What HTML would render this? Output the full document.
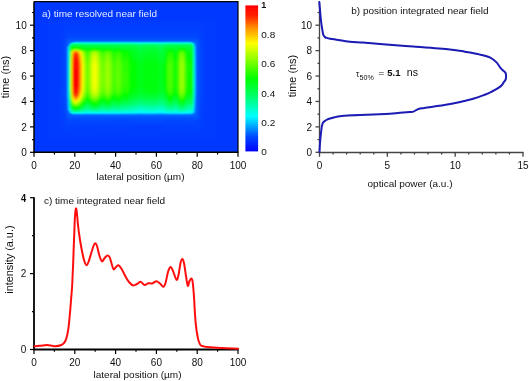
<!DOCTYPE html><html><head><meta charset="utf-8"><title>near field</title><style>html,body{margin:0;padding:0;background:#fff;overflow:hidden}body{width:529px;height:381px;font-family:"Liberation Sans",sans-serif}svg{display:block}</style></head><body><svg width="529" height="381" viewBox="0 0 529 381"><defs><linearGradient id="h0" x1="0" y1="0" x2="0" y2="1"><stop offset="0.000" stop-color="#003aff"/><stop offset="1.000" stop-color="#003aff"/></linearGradient><linearGradient id="h1" x1="0" y1="0" x2="0" y2="1"><stop offset="0.000" stop-color="#003aff"/><stop offset="1.000" stop-color="#003aff"/></linearGradient><linearGradient id="h2" x1="0" y1="0" x2="0" y2="1"><stop offset="0.000" stop-color="#003aff"/><stop offset="1.000" stop-color="#003aff"/></linearGradient><linearGradient id="h3" x1="0" y1="0" x2="0" y2="1"><stop offset="0.000" stop-color="#003aff"/><stop offset="0.644" stop-color="#0042ff"/><stop offset="1.000" stop-color="#003aff"/></linearGradient><linearGradient id="h4" x1="0" y1="0" x2="0" y2="1"><stop offset="0.000" stop-color="#003aff"/><stop offset="0.254" stop-color="#0047ff"/><stop offset="0.644" stop-color="#0047ff"/><stop offset="1.000" stop-color="#003aff"/></linearGradient><linearGradient id="h5" x1="0" y1="0" x2="0" y2="1"><stop offset="0.000" stop-color="#003aff"/><stop offset="0.254" stop-color="#004cff"/><stop offset="0.644" stop-color="#004cff"/><stop offset="0.847" stop-color="#0044ff"/><stop offset="1.000" stop-color="#003aff"/></linearGradient><linearGradient id="h6" x1="0" y1="0" x2="0" y2="1"><stop offset="0.000" stop-color="#003aff"/><stop offset="0.144" stop-color="#0044ff"/><stop offset="0.186" stop-color="#0051ff"/><stop offset="0.771" stop-color="#0051ff"/><stop offset="0.847" stop-color="#0044ff"/><stop offset="1.000" stop-color="#003aff"/></linearGradient><linearGradient id="h7" x1="0" y1="0" x2="0" y2="1"><stop offset="0.000" stop-color="#003aff"/><stop offset="0.144" stop-color="#0045ff"/><stop offset="0.186" stop-color="#0057ff"/><stop offset="0.220" stop-color="#0057ff"/><stop offset="0.237" stop-color="#0064ff"/><stop offset="0.559" stop-color="#006aff"/><stop offset="0.805" stop-color="#0057ff"/><stop offset="0.847" stop-color="#0045ff"/><stop offset="0.958" stop-color="#003bff"/><stop offset="1.000" stop-color="#003aff"/></linearGradient><linearGradient id="h8" x1="0" y1="0" x2="0" y2="1"><stop offset="0.000" stop-color="#003aff"/><stop offset="0.144" stop-color="#0046ff"/><stop offset="0.186" stop-color="#005fff"/><stop offset="0.220" stop-color="#005fff"/><stop offset="0.229" stop-color="#00e7ff"/><stop offset="0.288" stop-color="#00ffff"/><stop offset="0.475" stop-color="#00fff1"/><stop offset="0.610" stop-color="#00fff9"/><stop offset="0.644" stop-color="#00f5ff"/><stop offset="0.763" stop-color="#0096ff"/><stop offset="0.771" stop-color="#005fff"/><stop offset="0.805" stop-color="#005fff"/><stop offset="0.847" stop-color="#0046ff"/><stop offset="1.000" stop-color="#003aff"/></linearGradient><linearGradient id="h9" x1="0" y1="0" x2="0" y2="1"><stop offset="0.000" stop-color="#003aff"/><stop offset="0.144" stop-color="#0046ff"/><stop offset="0.186" stop-color="#0063ff"/><stop offset="0.203" stop-color="#0068ff"/><stop offset="0.212" stop-color="#00b5ff"/><stop offset="0.220" stop-color="#00ffed"/><stop offset="0.229" stop-color="#00ff7c"/><stop offset="0.254" stop-color="#00ff67"/><stop offset="0.322" stop-color="#00ff53"/><stop offset="0.390" stop-color="#00ff48"/><stop offset="0.559" stop-color="#00ff49"/><stop offset="0.610" stop-color="#00ff53"/><stop offset="0.644" stop-color="#00ff67"/><stop offset="0.712" stop-color="#00ffb2"/><stop offset="0.763" stop-color="#00fff6"/><stop offset="0.771" stop-color="#00b0ff"/><stop offset="0.780" stop-color="#007fff"/><stop offset="0.788" stop-color="#0064ff"/><stop offset="0.805" stop-color="#0063ff"/><stop offset="0.847" stop-color="#0046ff"/><stop offset="0.958" stop-color="#003bff"/><stop offset="1.000" stop-color="#003aff"/></linearGradient><linearGradient id="h10" x1="0" y1="0" x2="0" y2="1"><stop offset="0.000" stop-color="#003aff"/><stop offset="0.144" stop-color="#0046ff"/><stop offset="0.186" stop-color="#0063ff"/><stop offset="0.195" stop-color="#006bff"/><stop offset="0.203" stop-color="#00ffe9"/><stop offset="0.212" stop-color="#00ff71"/><stop offset="0.220" stop-color="#00ff47"/><stop offset="0.254" stop-color="#00ff08"/><stop offset="0.288" stop-color="#2eff00"/><stop offset="0.390" stop-color="#55ff00"/><stop offset="0.559" stop-color="#53ff00"/><stop offset="0.610" stop-color="#40ff00"/><stop offset="0.661" stop-color="#04ff00"/><stop offset="0.678" stop-color="#00ff14"/><stop offset="0.746" stop-color="#00ff89"/><stop offset="0.771" stop-color="#00ffc7"/><stop offset="0.780" stop-color="#00ffe5"/><stop offset="0.788" stop-color="#00aaff"/><stop offset="0.797" stop-color="#0064ff"/><stop offset="0.822" stop-color="#0054ff"/><stop offset="0.890" stop-color="#003fff"/><stop offset="1.000" stop-color="#003aff"/></linearGradient><linearGradient id="h11" x1="0" y1="0" x2="0" y2="1"><stop offset="0.000" stop-color="#003aff"/><stop offset="0.144" stop-color="#0046ff"/><stop offset="0.186" stop-color="#0063ff"/><stop offset="0.195" stop-color="#00bbff"/><stop offset="0.203" stop-color="#00ff8a"/><stop offset="0.220" stop-color="#00ff42"/><stop offset="0.237" stop-color="#00ff10"/><stop offset="0.246" stop-color="#14ff00"/><stop offset="0.254" stop-color="#40ff00"/><stop offset="0.271" stop-color="#a0ff00"/><stop offset="0.288" stop-color="#c3ff00"/><stop offset="0.356" stop-color="#f0ff00"/><stop offset="0.390" stop-color="#fcff00"/><stop offset="0.559" stop-color="#f9ff00"/><stop offset="0.610" stop-color="#dfff00"/><stop offset="0.644" stop-color="#b0ff00"/><stop offset="0.678" stop-color="#65ff00"/><stop offset="0.712" stop-color="#05ff00"/><stop offset="0.746" stop-color="#00ff52"/><stop offset="0.780" stop-color="#00ffcb"/><stop offset="0.788" stop-color="#00f9ff"/><stop offset="0.797" stop-color="#007bff"/><stop offset="0.805" stop-color="#0063ff"/><stop offset="0.822" stop-color="#0054ff"/><stop offset="0.890" stop-color="#003fff"/><stop offset="1.000" stop-color="#003aff"/></linearGradient><linearGradient id="h12" x1="0" y1="0" x2="0" y2="1"><stop offset="0.000" stop-color="#003aff"/><stop offset="0.144" stop-color="#0046ff"/><stop offset="0.186" stop-color="#0065ff"/><stop offset="0.195" stop-color="#00fffb"/><stop offset="0.203" stop-color="#00ff88"/><stop offset="0.220" stop-color="#00ff3d"/><stop offset="0.237" stop-color="#04ff00"/><stop offset="0.254" stop-color="#81ff00"/><stop offset="0.271" stop-color="#ffef00"/><stop offset="0.288" stop-color="#ffbc00"/><stop offset="0.322" stop-color="#ff9400"/><stop offset="0.390" stop-color="#ff6800"/><stop offset="0.475" stop-color="#ff6100"/><stop offset="0.559" stop-color="#ff6c00"/><stop offset="0.610" stop-color="#ff9500"/><stop offset="0.644" stop-color="#ffcf00"/><stop offset="0.661" stop-color="#fffa00"/><stop offset="0.678" stop-color="#d0ff00"/><stop offset="0.712" stop-color="#59ff00"/><stop offset="0.729" stop-color="#13ff00"/><stop offset="0.746" stop-color="#00ff29"/><stop offset="0.771" stop-color="#00ff92"/><stop offset="0.780" stop-color="#00ffbb"/><stop offset="0.788" stop-color="#00fffc"/><stop offset="0.797" stop-color="#009fff"/><stop offset="0.805" stop-color="#0063ff"/><stop offset="0.847" stop-color="#0046ff"/><stop offset="1.000" stop-color="#003aff"/></linearGradient><linearGradient id="h13" x1="0" y1="0" x2="0" y2="1"><stop offset="0.000" stop-color="#003aff"/><stop offset="0.144" stop-color="#0046ff"/><stop offset="0.169" stop-color="#0054ff"/><stop offset="0.186" stop-color="#006aff"/><stop offset="0.195" stop-color="#00ffe7"/><stop offset="0.203" stop-color="#00ff88"/><stop offset="0.229" stop-color="#00ff19"/><stop offset="0.237" stop-color="#12ff00"/><stop offset="0.254" stop-color="#a3ff00"/><stop offset="0.271" stop-color="#ffb300"/><stop offset="0.288" stop-color="#ff6f00"/><stop offset="0.322" stop-color="#ff3400"/><stop offset="0.356" stop-color="#ff1b00"/><stop offset="0.559" stop-color="#ff1600"/><stop offset="0.610" stop-color="#ff3500"/><stop offset="0.644" stop-color="#ff8a00"/><stop offset="0.678" stop-color="#fff500"/><stop offset="0.712" stop-color="#87ff00"/><stop offset="0.729" stop-color="#38ff00"/><stop offset="0.746" stop-color="#00ff12"/><stop offset="0.771" stop-color="#00ff85"/><stop offset="0.780" stop-color="#00ffb2"/><stop offset="0.788" stop-color="#00fff8"/><stop offset="0.805" stop-color="#0064ff"/><stop offset="0.822" stop-color="#0054ff"/><stop offset="0.890" stop-color="#003fff"/><stop offset="1.000" stop-color="#003aff"/></linearGradient><linearGradient id="h14" x1="0" y1="0" x2="0" y2="1"><stop offset="0.000" stop-color="#003aff"/><stop offset="0.144" stop-color="#0046ff"/><stop offset="0.178" stop-color="#005eff"/><stop offset="0.186" stop-color="#00a8ff"/><stop offset="0.195" stop-color="#00ffdf"/><stop offset="0.203" stop-color="#00ff88"/><stop offset="0.220" stop-color="#00ff39"/><stop offset="0.229" stop-color="#00ff17"/><stop offset="0.237" stop-color="#18ff00"/><stop offset="0.254" stop-color="#b4ff00"/><stop offset="0.271" stop-color="#ff9500"/><stop offset="0.288" stop-color="#ff4200"/><stop offset="0.305" stop-color="#ff1d00"/><stop offset="0.356" stop-color="#ff0c00"/><stop offset="0.475" stop-color="#ff0200"/><stop offset="0.559" stop-color="#ff0600"/><stop offset="0.610" stop-color="#ff1600"/><stop offset="0.627" stop-color="#ff2c00"/><stop offset="0.644" stop-color="#ff5d00"/><stop offset="0.678" stop-color="#ffd800"/><stop offset="0.695" stop-color="#e3ff00"/><stop offset="0.746" stop-color="#00ff07"/><stop offset="0.771" stop-color="#00ff7e"/><stop offset="0.780" stop-color="#00ffae"/><stop offset="0.788" stop-color="#00fff6"/><stop offset="0.805" stop-color="#006dff"/><stop offset="0.822" stop-color="#0054ff"/><stop offset="0.847" stop-color="#0046ff"/><stop offset="0.958" stop-color="#003bff"/><stop offset="1.000" stop-color="#003aff"/></linearGradient><linearGradient id="h15" x1="0" y1="0" x2="0" y2="1"><stop offset="0.000" stop-color="#003aff"/><stop offset="0.144" stop-color="#0046ff"/><stop offset="0.178" stop-color="#005eff"/><stop offset="0.186" stop-color="#00a8ff"/><stop offset="0.195" stop-color="#00ffdf"/><stop offset="0.203" stop-color="#00ff88"/><stop offset="0.220" stop-color="#00ff38"/><stop offset="0.229" stop-color="#00ff15"/><stop offset="0.237" stop-color="#1bff00"/><stop offset="0.254" stop-color="#bcff00"/><stop offset="0.271" stop-color="#ff8500"/><stop offset="0.288" stop-color="#ff2c00"/><stop offset="0.322" stop-color="#ff0e00"/><stop offset="0.390" stop-color="#ff0000"/><stop offset="0.559" stop-color="#ff0000"/><stop offset="0.627" stop-color="#ff1b00"/><stop offset="0.644" stop-color="#ff4700"/><stop offset="0.678" stop-color="#ffca00"/><stop offset="0.695" stop-color="#efff00"/><stop offset="0.712" stop-color="#a7ff00"/><stop offset="0.746" stop-color="#00ff01"/><stop offset="0.771" stop-color="#00ff7b"/><stop offset="0.780" stop-color="#00ffac"/><stop offset="0.788" stop-color="#00fff5"/><stop offset="0.805" stop-color="#006dff"/><stop offset="0.822" stop-color="#0054ff"/><stop offset="0.890" stop-color="#003fff"/><stop offset="1.000" stop-color="#003aff"/></linearGradient><linearGradient id="h16" x1="0" y1="0" x2="0" y2="1"><stop offset="0.000" stop-color="#003aff"/><stop offset="0.144" stop-color="#0046ff"/><stop offset="0.178" stop-color="#005eff"/><stop offset="0.186" stop-color="#00a8ff"/><stop offset="0.195" stop-color="#00ffdf"/><stop offset="0.203" stop-color="#00ff88"/><stop offset="0.220" stop-color="#00ff39"/><stop offset="0.229" stop-color="#00ff16"/><stop offset="0.237" stop-color="#1aff00"/><stop offset="0.254" stop-color="#b9ff00"/><stop offset="0.271" stop-color="#ff8b00"/><stop offset="0.288" stop-color="#ff3400"/><stop offset="0.305" stop-color="#ff1900"/><stop offset="0.356" stop-color="#ff0700"/><stop offset="0.475" stop-color="#ff0000"/><stop offset="0.559" stop-color="#ff0100"/><stop offset="0.610" stop-color="#ff1100"/><stop offset="0.627" stop-color="#ff1e00"/><stop offset="0.644" stop-color="#ff4f00"/><stop offset="0.678" stop-color="#ffcf00"/><stop offset="0.695" stop-color="#ebff00"/><stop offset="0.746" stop-color="#00ff03"/><stop offset="0.771" stop-color="#00ff7c"/><stop offset="0.780" stop-color="#00ffad"/><stop offset="0.788" stop-color="#00fff5"/><stop offset="0.805" stop-color="#006dff"/><stop offset="0.822" stop-color="#0054ff"/><stop offset="0.847" stop-color="#0046ff"/><stop offset="0.958" stop-color="#003bff"/><stop offset="1.000" stop-color="#003aff"/></linearGradient><linearGradient id="h17" x1="0" y1="0" x2="0" y2="1"><stop offset="0.000" stop-color="#003aff"/><stop offset="0.144" stop-color="#0046ff"/><stop offset="0.178" stop-color="#005eff"/><stop offset="0.186" stop-color="#00a8ff"/><stop offset="0.195" stop-color="#00ffdf"/><stop offset="0.203" stop-color="#00ff88"/><stop offset="0.220" stop-color="#00ff39"/><stop offset="0.229" stop-color="#00ff17"/><stop offset="0.237" stop-color="#17ff00"/><stop offset="0.254" stop-color="#b1ff00"/><stop offset="0.271" stop-color="#ff9a00"/><stop offset="0.288" stop-color="#ff4900"/><stop offset="0.305" stop-color="#ff2300"/><stop offset="0.356" stop-color="#ff0e00"/><stop offset="0.475" stop-color="#ff0400"/><stop offset="0.559" stop-color="#ff0800"/><stop offset="0.610" stop-color="#ff1800"/><stop offset="0.627" stop-color="#ff3300"/><stop offset="0.644" stop-color="#ff6300"/><stop offset="0.678" stop-color="#ffdd00"/><stop offset="0.695" stop-color="#dfff00"/><stop offset="0.746" stop-color="#00ff09"/><stop offset="0.771" stop-color="#00ff7f"/><stop offset="0.780" stop-color="#00ffaf"/><stop offset="0.788" stop-color="#00fff6"/><stop offset="0.805" stop-color="#006dff"/><stop offset="0.822" stop-color="#0054ff"/><stop offset="0.847" stop-color="#0046ff"/><stop offset="0.958" stop-color="#003bff"/><stop offset="1.000" stop-color="#003aff"/></linearGradient><linearGradient id="h18" x1="0" y1="0" x2="0" y2="1"><stop offset="0.000" stop-color="#003aff"/><stop offset="0.144" stop-color="#0046ff"/><stop offset="0.178" stop-color="#005eff"/><stop offset="0.186" stop-color="#00a8ff"/><stop offset="0.195" stop-color="#00ffdf"/><stop offset="0.203" stop-color="#00ff88"/><stop offset="0.220" stop-color="#00ff3b"/><stop offset="0.229" stop-color="#00ff1a"/><stop offset="0.237" stop-color="#0fff00"/><stop offset="0.254" stop-color="#9dff00"/><stop offset="0.271" stop-color="#ffbe00"/><stop offset="0.288" stop-color="#ff8000"/><stop offset="0.322" stop-color="#ff4600"/><stop offset="0.356" stop-color="#ff2800"/><stop offset="0.390" stop-color="#ff1a00"/><stop offset="0.559" stop-color="#ff1c00"/><stop offset="0.610" stop-color="#ff4700"/><stop offset="0.644" stop-color="#ff9700"/><stop offset="0.678" stop-color="#ffff00"/><stop offset="0.712" stop-color="#7fff00"/><stop offset="0.729" stop-color="#31ff00"/><stop offset="0.746" stop-color="#00ff16"/><stop offset="0.771" stop-color="#00ff87"/><stop offset="0.780" stop-color="#00ffb4"/><stop offset="0.788" stop-color="#00fff9"/><stop offset="0.805" stop-color="#006dff"/><stop offset="0.822" stop-color="#0054ff"/><stop offset="0.847" stop-color="#0046ff"/><stop offset="0.958" stop-color="#003bff"/><stop offset="1.000" stop-color="#003aff"/></linearGradient><linearGradient id="h19" x1="0" y1="0" x2="0" y2="1"><stop offset="0.000" stop-color="#003aff"/><stop offset="0.144" stop-color="#0046ff"/><stop offset="0.178" stop-color="#005eff"/><stop offset="0.186" stop-color="#00a8ff"/><stop offset="0.195" stop-color="#00ffdf"/><stop offset="0.203" stop-color="#00ff88"/><stop offset="0.220" stop-color="#00ff3c"/><stop offset="0.237" stop-color="#07ff00"/><stop offset="0.254" stop-color="#87ff00"/><stop offset="0.271" stop-color="#ffe400"/><stop offset="0.288" stop-color="#ffaf00"/><stop offset="0.322" stop-color="#ff8500"/><stop offset="0.356" stop-color="#ff6900"/><stop offset="0.390" stop-color="#ff5500"/><stop offset="0.475" stop-color="#ff4e00"/><stop offset="0.559" stop-color="#ff5900"/><stop offset="0.610" stop-color="#ff8600"/><stop offset="0.644" stop-color="#ffc300"/><stop offset="0.661" stop-color="#ffee00"/><stop offset="0.678" stop-color="#daff00"/><stop offset="0.712" stop-color="#62ff00"/><stop offset="0.729" stop-color="#1aff00"/><stop offset="0.746" stop-color="#00ff25"/><stop offset="0.763" stop-color="#00ff65"/><stop offset="0.771" stop-color="#00ff90"/><stop offset="0.780" stop-color="#00ffba"/><stop offset="0.788" stop-color="#00fffb"/><stop offset="0.805" stop-color="#006dff"/><stop offset="0.822" stop-color="#0054ff"/><stop offset="0.890" stop-color="#003fff"/><stop offset="1.000" stop-color="#003aff"/></linearGradient><linearGradient id="h20" x1="0" y1="0" x2="0" y2="1"><stop offset="0.000" stop-color="#003aff"/><stop offset="0.144" stop-color="#0046ff"/><stop offset="0.178" stop-color="#005eff"/><stop offset="0.186" stop-color="#00a8ff"/><stop offset="0.195" stop-color="#00ffdf"/><stop offset="0.203" stop-color="#00ff88"/><stop offset="0.220" stop-color="#00ff3e"/><stop offset="0.237" stop-color="#00ff02"/><stop offset="0.254" stop-color="#70ff00"/><stop offset="0.271" stop-color="#f2ff00"/><stop offset="0.288" stop-color="#ffdc00"/><stop offset="0.322" stop-color="#ffb700"/><stop offset="0.356" stop-color="#ffa400"/><stop offset="0.390" stop-color="#ff9600"/><stop offset="0.475" stop-color="#ff9100"/><stop offset="0.559" stop-color="#ff9900"/><stop offset="0.610" stop-color="#ffb800"/><stop offset="0.644" stop-color="#fff000"/><stop offset="0.661" stop-color="#e6ff00"/><stop offset="0.712" stop-color="#44ff00"/><stop offset="0.729" stop-color="#02ff00"/><stop offset="0.746" stop-color="#00ff34"/><stop offset="0.771" stop-color="#00ff98"/><stop offset="0.780" stop-color="#00ffbf"/><stop offset="0.788" stop-color="#00fffe"/><stop offset="0.805" stop-color="#006dff"/><stop offset="0.822" stop-color="#0054ff"/><stop offset="0.847" stop-color="#0046ff"/><stop offset="0.958" stop-color="#003bff"/><stop offset="1.000" stop-color="#003aff"/></linearGradient><linearGradient id="h21" x1="0" y1="0" x2="0" y2="1"><stop offset="0.000" stop-color="#003aff"/><stop offset="0.144" stop-color="#0046ff"/><stop offset="0.178" stop-color="#005eff"/><stop offset="0.186" stop-color="#00a8ff"/><stop offset="0.195" stop-color="#00ffdf"/><stop offset="0.203" stop-color="#00ff88"/><stop offset="0.220" stop-color="#00ff40"/><stop offset="0.237" stop-color="#00ff09"/><stop offset="0.246" stop-color="#25ff00"/><stop offset="0.271" stop-color="#cbff00"/><stop offset="0.288" stop-color="#f4ff00"/><stop offset="0.322" stop-color="#ffe800"/><stop offset="0.390" stop-color="#ffc900"/><stop offset="0.559" stop-color="#ffcc00"/><stop offset="0.610" stop-color="#ffe900"/><stop offset="0.627" stop-color="#fdff00"/><stop offset="0.644" stop-color="#e1ff00"/><stop offset="0.678" stop-color="#8fff00"/><stop offset="0.712" stop-color="#26ff00"/><stop offset="0.729" stop-color="#00ff12"/><stop offset="0.746" stop-color="#00ff42"/><stop offset="0.780" stop-color="#00ffc5"/><stop offset="0.788" stop-color="#00feff"/><stop offset="0.805" stop-color="#006dff"/><stop offset="0.822" stop-color="#0054ff"/><stop offset="0.890" stop-color="#003fff"/><stop offset="1.000" stop-color="#003aff"/></linearGradient><linearGradient id="h22" x1="0" y1="0" x2="0" y2="1"><stop offset="0.000" stop-color="#003aff"/><stop offset="0.144" stop-color="#0046ff"/><stop offset="0.178" stop-color="#005eff"/><stop offset="0.186" stop-color="#00a8ff"/><stop offset="0.195" stop-color="#00ffdf"/><stop offset="0.203" stop-color="#00ff88"/><stop offset="0.220" stop-color="#00ff41"/><stop offset="0.237" stop-color="#00ff0f"/><stop offset="0.246" stop-color="#17ff00"/><stop offset="0.271" stop-color="#a8ff00"/><stop offset="0.288" stop-color="#ccff00"/><stop offset="0.322" stop-color="#eaff00"/><stop offset="0.390" stop-color="#fff800"/><stop offset="0.559" stop-color="#fffb00"/><stop offset="0.610" stop-color="#e9ff00"/><stop offset="0.644" stop-color="#b9ff00"/><stop offset="0.678" stop-color="#6dff00"/><stop offset="0.712" stop-color="#0bff00"/><stop offset="0.746" stop-color="#00ff50"/><stop offset="0.780" stop-color="#00ffca"/><stop offset="0.788" stop-color="#00fbff"/><stop offset="0.805" stop-color="#006dff"/><stop offset="0.822" stop-color="#0054ff"/><stop offset="0.890" stop-color="#003fff"/><stop offset="1.000" stop-color="#003aff"/></linearGradient><linearGradient id="h23" x1="0" y1="0" x2="0" y2="1"><stop offset="0.000" stop-color="#003aff"/><stop offset="0.144" stop-color="#0046ff"/><stop offset="0.178" stop-color="#005eff"/><stop offset="0.186" stop-color="#00a8ff"/><stop offset="0.195" stop-color="#00ffdf"/><stop offset="0.203" stop-color="#00ff88"/><stop offset="0.220" stop-color="#00ff43"/><stop offset="0.237" stop-color="#00ff15"/><stop offset="0.246" stop-color="#0bff00"/><stop offset="0.271" stop-color="#89ff00"/><stop offset="0.288" stop-color="#a8ff00"/><stop offset="0.322" stop-color="#c3ff00"/><stop offset="0.390" stop-color="#ddff00"/><stop offset="0.559" stop-color="#daff00"/><stop offset="0.610" stop-color="#c2ff00"/><stop offset="0.644" stop-color="#95ff00"/><stop offset="0.678" stop-color="#4dff00"/><stop offset="0.712" stop-color="#00ff0a"/><stop offset="0.746" stop-color="#00ff5b"/><stop offset="0.780" stop-color="#00ffcf"/><stop offset="0.788" stop-color="#00f8ff"/><stop offset="0.805" stop-color="#006dff"/><stop offset="0.822" stop-color="#0054ff"/><stop offset="0.890" stop-color="#003fff"/><stop offset="1.000" stop-color="#003aff"/></linearGradient><linearGradient id="h24" x1="0" y1="0" x2="0" y2="1"><stop offset="0.000" stop-color="#003aff"/><stop offset="0.144" stop-color="#0046ff"/><stop offset="0.178" stop-color="#005eff"/><stop offset="0.186" stop-color="#00a8ff"/><stop offset="0.195" stop-color="#00ffdf"/><stop offset="0.203" stop-color="#00ff88"/><stop offset="0.220" stop-color="#00ff44"/><stop offset="0.246" stop-color="#00ff01"/><stop offset="0.271" stop-color="#68ff00"/><stop offset="0.288" stop-color="#83ff00"/><stop offset="0.322" stop-color="#9cff00"/><stop offset="0.390" stop-color="#b4ff00"/><stop offset="0.559" stop-color="#b1ff00"/><stop offset="0.610" stop-color="#9bff00"/><stop offset="0.644" stop-color="#70ff00"/><stop offset="0.695" stop-color="#06ff00"/><stop offset="0.746" stop-color="#00ff68"/><stop offset="0.780" stop-color="#00ffd3"/><stop offset="0.788" stop-color="#00f6ff"/><stop offset="0.805" stop-color="#006dff"/><stop offset="0.822" stop-color="#0054ff"/><stop offset="0.847" stop-color="#0046ff"/><stop offset="0.958" stop-color="#003bff"/><stop offset="1.000" stop-color="#003aff"/></linearGradient><linearGradient id="h25" x1="0" y1="0" x2="0" y2="1"><stop offset="0.000" stop-color="#003aff"/><stop offset="0.144" stop-color="#0046ff"/><stop offset="0.178" stop-color="#005eff"/><stop offset="0.186" stop-color="#00a8ff"/><stop offset="0.195" stop-color="#00ffdf"/><stop offset="0.203" stop-color="#00ff88"/><stop offset="0.220" stop-color="#00ff45"/><stop offset="0.246" stop-color="#00ff09"/><stop offset="0.254" stop-color="#12ff00"/><stop offset="0.271" stop-color="#50ff00"/><stop offset="0.288" stop-color="#67ff00"/><stop offset="0.322" stop-color="#7eff00"/><stop offset="0.390" stop-color="#95ff00"/><stop offset="0.559" stop-color="#93ff00"/><stop offset="0.610" stop-color="#7eff00"/><stop offset="0.644" stop-color="#54ff00"/><stop offset="0.678" stop-color="#17ff00"/><stop offset="0.695" stop-color="#00ff0b"/><stop offset="0.746" stop-color="#00ff73"/><stop offset="0.771" stop-color="#00ffbd"/><stop offset="0.788" stop-color="#00f4ff"/><stop offset="0.805" stop-color="#006dff"/><stop offset="0.822" stop-color="#0054ff"/><stop offset="0.890" stop-color="#003fff"/><stop offset="1.000" stop-color="#003aff"/></linearGradient><linearGradient id="h26" x1="0" y1="0" x2="0" y2="1"><stop offset="0.000" stop-color="#003aff"/><stop offset="0.144" stop-color="#0046ff"/><stop offset="0.178" stop-color="#005eff"/><stop offset="0.186" stop-color="#00a8ff"/><stop offset="0.195" stop-color="#00ffdf"/><stop offset="0.203" stop-color="#00ff88"/><stop offset="0.220" stop-color="#00ff46"/><stop offset="0.254" stop-color="#05ff00"/><stop offset="0.271" stop-color="#37ff00"/><stop offset="0.288" stop-color="#4bff00"/><stop offset="0.356" stop-color="#6dff00"/><stop offset="0.475" stop-color="#77ff00"/><stop offset="0.559" stop-color="#73ff00"/><stop offset="0.610" stop-color="#5fff00"/><stop offset="0.644" stop-color="#38ff00"/><stop offset="0.678" stop-color="#00ff00"/><stop offset="0.746" stop-color="#00ff7d"/><stop offset="0.771" stop-color="#00ffc2"/><stop offset="0.788" stop-color="#00f2ff"/><stop offset="0.805" stop-color="#006dff"/><stop offset="0.822" stop-color="#0054ff"/><stop offset="0.890" stop-color="#003fff"/><stop offset="1.000" stop-color="#003aff"/></linearGradient><linearGradient id="h27" x1="0" y1="0" x2="0" y2="1"><stop offset="0.000" stop-color="#003aff"/><stop offset="0.144" stop-color="#0046ff"/><stop offset="0.178" stop-color="#005eff"/><stop offset="0.186" stop-color="#00a8ff"/><stop offset="0.195" stop-color="#00ffdf"/><stop offset="0.203" stop-color="#00ff88"/><stop offset="0.220" stop-color="#00ff46"/><stop offset="0.254" stop-color="#02ff00"/><stop offset="0.271" stop-color="#33ff00"/><stop offset="0.288" stop-color="#46ff00"/><stop offset="0.356" stop-color="#67ff00"/><stop offset="0.475" stop-color="#71ff00"/><stop offset="0.559" stop-color="#6dff00"/><stop offset="0.610" stop-color="#5aff00"/><stop offset="0.678" stop-color="#00ff04"/><stop offset="0.746" stop-color="#00ff7f"/><stop offset="0.771" stop-color="#00ffc3"/><stop offset="0.788" stop-color="#00f2ff"/><stop offset="0.805" stop-color="#006dff"/><stop offset="0.822" stop-color="#0054ff"/><stop offset="0.890" stop-color="#003fff"/><stop offset="1.000" stop-color="#003aff"/></linearGradient><linearGradient id="h28" x1="0" y1="0" x2="0" y2="1"><stop offset="0.000" stop-color="#003aff"/><stop offset="0.144" stop-color="#0046ff"/><stop offset="0.178" stop-color="#005eff"/><stop offset="0.186" stop-color="#00a8ff"/><stop offset="0.195" stop-color="#00ffdf"/><stop offset="0.203" stop-color="#00ff88"/><stop offset="0.220" stop-color="#00ff46"/><stop offset="0.254" stop-color="#03ff00"/><stop offset="0.271" stop-color="#34ff00"/><stop offset="0.288" stop-color="#47ff00"/><stop offset="0.356" stop-color="#68ff00"/><stop offset="0.475" stop-color="#73ff00"/><stop offset="0.559" stop-color="#6fff00"/><stop offset="0.610" stop-color="#5bff00"/><stop offset="0.644" stop-color="#35ff00"/><stop offset="0.678" stop-color="#00ff03"/><stop offset="0.746" stop-color="#00ff7f"/><stop offset="0.771" stop-color="#00ffc3"/><stop offset="0.788" stop-color="#00f2ff"/><stop offset="0.805" stop-color="#006dff"/><stop offset="0.822" stop-color="#0054ff"/><stop offset="0.890" stop-color="#003fff"/><stop offset="1.000" stop-color="#003aff"/></linearGradient><linearGradient id="h29" x1="0" y1="0" x2="0" y2="1"><stop offset="0.000" stop-color="#003aff"/><stop offset="0.144" stop-color="#0046ff"/><stop offset="0.178" stop-color="#005eff"/><stop offset="0.186" stop-color="#00a8ff"/><stop offset="0.195" stop-color="#00ffdf"/><stop offset="0.203" stop-color="#00ff88"/><stop offset="0.220" stop-color="#00ff45"/><stop offset="0.246" stop-color="#00ff0a"/><stop offset="0.254" stop-color="#10ff00"/><stop offset="0.271" stop-color="#4cff00"/><stop offset="0.288" stop-color="#63ff00"/><stop offset="0.322" stop-color="#7aff00"/><stop offset="0.390" stop-color="#91ff00"/><stop offset="0.559" stop-color="#8eff00"/><stop offset="0.610" stop-color="#79ff00"/><stop offset="0.644" stop-color="#50ff00"/><stop offset="0.678" stop-color="#13ff00"/><stop offset="0.695" stop-color="#00ff0e"/><stop offset="0.746" stop-color="#00ff74"/><stop offset="0.771" stop-color="#00ffbd"/><stop offset="0.788" stop-color="#00f4ff"/><stop offset="0.805" stop-color="#006dff"/><stop offset="0.822" stop-color="#0054ff"/><stop offset="0.890" stop-color="#003fff"/><stop offset="1.000" stop-color="#003aff"/></linearGradient><linearGradient id="h30" x1="0" y1="0" x2="0" y2="1"><stop offset="0.000" stop-color="#003aff"/><stop offset="0.144" stop-color="#0046ff"/><stop offset="0.178" stop-color="#005eff"/><stop offset="0.186" stop-color="#00a8ff"/><stop offset="0.195" stop-color="#00ffdf"/><stop offset="0.203" stop-color="#00ff88"/><stop offset="0.220" stop-color="#00ff44"/><stop offset="0.246" stop-color="#00ff03"/><stop offset="0.271" stop-color="#64ff00"/><stop offset="0.288" stop-color="#7fff00"/><stop offset="0.322" stop-color="#97ff00"/><stop offset="0.390" stop-color="#afff00"/><stop offset="0.559" stop-color="#acff00"/><stop offset="0.610" stop-color="#96ff00"/><stop offset="0.644" stop-color="#6cff00"/><stop offset="0.695" stop-color="#03ff00"/><stop offset="0.746" stop-color="#00ff6a"/><stop offset="0.780" stop-color="#00ffd4"/><stop offset="0.788" stop-color="#00f5ff"/><stop offset="0.805" stop-color="#006dff"/><stop offset="0.822" stop-color="#0054ff"/><stop offset="0.847" stop-color="#0046ff"/><stop offset="0.958" stop-color="#003bff"/><stop offset="1.000" stop-color="#003aff"/></linearGradient><linearGradient id="h31" x1="0" y1="0" x2="0" y2="1"><stop offset="0.000" stop-color="#003aff"/><stop offset="0.144" stop-color="#0046ff"/><stop offset="0.178" stop-color="#005eff"/><stop offset="0.186" stop-color="#00a8ff"/><stop offset="0.195" stop-color="#00ffdf"/><stop offset="0.203" stop-color="#00ff88"/><stop offset="0.220" stop-color="#00ff44"/><stop offset="0.246" stop-color="#04ff00"/><stop offset="0.271" stop-color="#78ff00"/><stop offset="0.288" stop-color="#95ff00"/><stop offset="0.322" stop-color="#aeff00"/><stop offset="0.390" stop-color="#c8ff00"/><stop offset="0.559" stop-color="#c5ff00"/><stop offset="0.610" stop-color="#aeff00"/><stop offset="0.644" stop-color="#82ff00"/><stop offset="0.695" stop-color="#14ff00"/><stop offset="0.712" stop-color="#00ff14"/><stop offset="0.746" stop-color="#00ff61"/><stop offset="0.780" stop-color="#00ffd1"/><stop offset="0.788" stop-color="#00f7ff"/><stop offset="0.805" stop-color="#006dff"/><stop offset="0.822" stop-color="#0054ff"/><stop offset="0.847" stop-color="#0046ff"/><stop offset="1.000" stop-color="#003aff"/></linearGradient><linearGradient id="h32" x1="0" y1="0" x2="0" y2="1"><stop offset="0.000" stop-color="#003aff"/><stop offset="0.144" stop-color="#0046ff"/><stop offset="0.178" stop-color="#005eff"/><stop offset="0.186" stop-color="#00a8ff"/><stop offset="0.195" stop-color="#00ffdf"/><stop offset="0.203" stop-color="#00ff88"/><stop offset="0.220" stop-color="#00ff43"/><stop offset="0.246" stop-color="#0aff00"/><stop offset="0.271" stop-color="#87ff00"/><stop offset="0.288" stop-color="#a5ff00"/><stop offset="0.322" stop-color="#c0ff00"/><stop offset="0.390" stop-color="#dbff00"/><stop offset="0.559" stop-color="#d8ff00"/><stop offset="0.610" stop-color="#c0ff00"/><stop offset="0.644" stop-color="#93ff00"/><stop offset="0.678" stop-color="#4cff00"/><stop offset="0.712" stop-color="#00ff0b"/><stop offset="0.746" stop-color="#00ff5c"/><stop offset="0.771" stop-color="#00ffb1"/><stop offset="0.780" stop-color="#00ffcf"/><stop offset="0.788" stop-color="#00f8ff"/><stop offset="0.805" stop-color="#006dff"/><stop offset="0.822" stop-color="#0054ff"/><stop offset="0.890" stop-color="#003fff"/><stop offset="1.000" stop-color="#003aff"/></linearGradient><linearGradient id="h33" x1="0" y1="0" x2="0" y2="1"><stop offset="0.000" stop-color="#003aff"/><stop offset="0.144" stop-color="#0046ff"/><stop offset="0.178" stop-color="#005eff"/><stop offset="0.186" stop-color="#00a8ff"/><stop offset="0.195" stop-color="#00ffdf"/><stop offset="0.203" stop-color="#00ff88"/><stop offset="0.220" stop-color="#00ff42"/><stop offset="0.237" stop-color="#00ff12"/><stop offset="0.246" stop-color="#10ff00"/><stop offset="0.271" stop-color="#95ff00"/><stop offset="0.288" stop-color="#b6ff00"/><stop offset="0.322" stop-color="#d2ff00"/><stop offset="0.390" stop-color="#eeff00"/><stop offset="0.559" stop-color="#ebff00"/><stop offset="0.610" stop-color="#d2ff00"/><stop offset="0.644" stop-color="#a3ff00"/><stop offset="0.678" stop-color="#5aff00"/><stop offset="0.712" stop-color="#00ff02"/><stop offset="0.746" stop-color="#00ff57"/><stop offset="0.780" stop-color="#00ffcd"/><stop offset="0.788" stop-color="#00f9ff"/><stop offset="0.805" stop-color="#006dff"/><stop offset="0.822" stop-color="#0054ff"/><stop offset="0.890" stop-color="#003fff"/><stop offset="1.000" stop-color="#003aff"/></linearGradient><linearGradient id="h34" x1="0" y1="0" x2="0" y2="1"><stop offset="0.000" stop-color="#003aff"/><stop offset="0.144" stop-color="#0046ff"/><stop offset="0.178" stop-color="#005eff"/><stop offset="0.186" stop-color="#00a8ff"/><stop offset="0.195" stop-color="#00ffdf"/><stop offset="0.203" stop-color="#00ff88"/><stop offset="0.220" stop-color="#00ff42"/><stop offset="0.237" stop-color="#00ff10"/><stop offset="0.246" stop-color="#15ff00"/><stop offset="0.271" stop-color="#a4ff00"/><stop offset="0.288" stop-color="#c7ff00"/><stop offset="0.322" stop-color="#e4ff00"/><stop offset="0.390" stop-color="#fffd00"/><stop offset="0.559" stop-color="#feff00"/><stop offset="0.610" stop-color="#e4ff00"/><stop offset="0.644" stop-color="#b4ff00"/><stop offset="0.678" stop-color="#68ff00"/><stop offset="0.712" stop-color="#08ff00"/><stop offset="0.746" stop-color="#00ff51"/><stop offset="0.780" stop-color="#00ffcb"/><stop offset="0.788" stop-color="#00faff"/><stop offset="0.805" stop-color="#006dff"/><stop offset="0.822" stop-color="#0054ff"/><stop offset="0.890" stop-color="#003fff"/><stop offset="1.000" stop-color="#003aff"/></linearGradient><linearGradient id="h35" x1="0" y1="0" x2="0" y2="1"><stop offset="0.000" stop-color="#003aff"/><stop offset="0.144" stop-color="#0046ff"/><stop offset="0.178" stop-color="#005eff"/><stop offset="0.186" stop-color="#00a8ff"/><stop offset="0.195" stop-color="#00ffdf"/><stop offset="0.203" stop-color="#00ff88"/><stop offset="0.220" stop-color="#00ff42"/><stop offset="0.237" stop-color="#00ff11"/><stop offset="0.246" stop-color="#13ff00"/><stop offset="0.271" stop-color="#9eff00"/><stop offset="0.288" stop-color="#c0ff00"/><stop offset="0.322" stop-color="#ddff00"/><stop offset="0.390" stop-color="#f9ff00"/><stop offset="0.559" stop-color="#f6ff00"/><stop offset="0.610" stop-color="#dcff00"/><stop offset="0.644" stop-color="#adff00"/><stop offset="0.678" stop-color="#62ff00"/><stop offset="0.712" stop-color="#03ff00"/><stop offset="0.746" stop-color="#00ff53"/><stop offset="0.780" stop-color="#00ffcc"/><stop offset="0.788" stop-color="#00faff"/><stop offset="0.805" stop-color="#006dff"/><stop offset="0.822" stop-color="#0054ff"/><stop offset="0.890" stop-color="#003fff"/><stop offset="1.000" stop-color="#003aff"/></linearGradient><linearGradient id="h36" x1="0" y1="0" x2="0" y2="1"><stop offset="0.000" stop-color="#003aff"/><stop offset="0.144" stop-color="#0046ff"/><stop offset="0.178" stop-color="#005eff"/><stop offset="0.186" stop-color="#00a8ff"/><stop offset="0.195" stop-color="#00ffdf"/><stop offset="0.203" stop-color="#00ff88"/><stop offset="0.220" stop-color="#00ff43"/><stop offset="0.237" stop-color="#00ff14"/><stop offset="0.246" stop-color="#0dff00"/><stop offset="0.271" stop-color="#8fff00"/><stop offset="0.288" stop-color="#afff00"/><stop offset="0.322" stop-color="#caff00"/><stop offset="0.390" stop-color="#e5ff00"/><stop offset="0.559" stop-color="#e2ff00"/><stop offset="0.610" stop-color="#caff00"/><stop offset="0.644" stop-color="#9cff00"/><stop offset="0.678" stop-color="#54ff00"/><stop offset="0.712" stop-color="#00ff06"/><stop offset="0.746" stop-color="#00ff59"/><stop offset="0.780" stop-color="#00ffce"/><stop offset="0.788" stop-color="#00f9ff"/><stop offset="0.805" stop-color="#006dff"/><stop offset="0.822" stop-color="#0054ff"/><stop offset="0.890" stop-color="#003fff"/><stop offset="1.000" stop-color="#003aff"/></linearGradient><linearGradient id="h37" x1="0" y1="0" x2="0" y2="1"><stop offset="0.000" stop-color="#003aff"/><stop offset="0.144" stop-color="#0046ff"/><stop offset="0.178" stop-color="#005eff"/><stop offset="0.186" stop-color="#00a8ff"/><stop offset="0.195" stop-color="#00ffdf"/><stop offset="0.203" stop-color="#00ff88"/><stop offset="0.220" stop-color="#00ff43"/><stop offset="0.246" stop-color="#07ff00"/><stop offset="0.271" stop-color="#80ff00"/><stop offset="0.288" stop-color="#9eff00"/><stop offset="0.322" stop-color="#b8ff00"/><stop offset="0.390" stop-color="#d2ff00"/><stop offset="0.559" stop-color="#cfff00"/><stop offset="0.610" stop-color="#b7ff00"/><stop offset="0.644" stop-color="#8bff00"/><stop offset="0.695" stop-color="#1aff00"/><stop offset="0.712" stop-color="#00ff0f"/><stop offset="0.746" stop-color="#00ff5f"/><stop offset="0.780" stop-color="#00ffd0"/><stop offset="0.788" stop-color="#00f8ff"/><stop offset="0.805" stop-color="#006dff"/><stop offset="0.822" stop-color="#0054ff"/><stop offset="0.847" stop-color="#0046ff"/><stop offset="1.000" stop-color="#003aff"/></linearGradient><linearGradient id="h38" x1="0" y1="0" x2="0" y2="1"><stop offset="0.000" stop-color="#003aff"/><stop offset="0.144" stop-color="#0046ff"/><stop offset="0.178" stop-color="#005eff"/><stop offset="0.186" stop-color="#00a8ff"/><stop offset="0.195" stop-color="#00ffdf"/><stop offset="0.203" stop-color="#00ff88"/><stop offset="0.220" stop-color="#00ff44"/><stop offset="0.246" stop-color="#01ff00"/><stop offset="0.271" stop-color="#70ff00"/><stop offset="0.288" stop-color="#8cff00"/><stop offset="0.322" stop-color="#a5ff00"/><stop offset="0.390" stop-color="#beff00"/><stop offset="0.559" stop-color="#bcff00"/><stop offset="0.610" stop-color="#a5ff00"/><stop offset="0.644" stop-color="#7aff00"/><stop offset="0.695" stop-color="#0dff00"/><stop offset="0.712" stop-color="#00ff18"/><stop offset="0.746" stop-color="#00ff64"/><stop offset="0.780" stop-color="#00ffd2"/><stop offset="0.788" stop-color="#00f6ff"/><stop offset="0.805" stop-color="#006dff"/><stop offset="0.822" stop-color="#0054ff"/><stop offset="0.847" stop-color="#0046ff"/><stop offset="1.000" stop-color="#003aff"/></linearGradient><linearGradient id="h39" x1="0" y1="0" x2="0" y2="1"><stop offset="0.000" stop-color="#003aff"/><stop offset="0.144" stop-color="#0046ff"/><stop offset="0.178" stop-color="#005eff"/><stop offset="0.186" stop-color="#00a8ff"/><stop offset="0.195" stop-color="#00ffdf"/><stop offset="0.203" stop-color="#00ff88"/><stop offset="0.220" stop-color="#00ff45"/><stop offset="0.246" stop-color="#00ff05"/><stop offset="0.271" stop-color="#5dff00"/><stop offset="0.288" stop-color="#77ff00"/><stop offset="0.322" stop-color="#8eff00"/><stop offset="0.390" stop-color="#a6ff00"/><stop offset="0.559" stop-color="#a4ff00"/><stop offset="0.610" stop-color="#8eff00"/><stop offset="0.644" stop-color="#64ff00"/><stop offset="0.695" stop-color="#00ff02"/><stop offset="0.746" stop-color="#00ff6d"/><stop offset="0.780" stop-color="#00ffd5"/><stop offset="0.788" stop-color="#00f5ff"/><stop offset="0.805" stop-color="#006dff"/><stop offset="0.822" stop-color="#0054ff"/><stop offset="0.847" stop-color="#0046ff"/><stop offset="0.958" stop-color="#003bff"/><stop offset="1.000" stop-color="#003aff"/></linearGradient><linearGradient id="h40" x1="0" y1="0" x2="0" y2="1"><stop offset="0.000" stop-color="#003aff"/><stop offset="0.144" stop-color="#0046ff"/><stop offset="0.178" stop-color="#005eff"/><stop offset="0.186" stop-color="#00a8ff"/><stop offset="0.195" stop-color="#00ffdf"/><stop offset="0.203" stop-color="#00ff88"/><stop offset="0.220" stop-color="#00ff46"/><stop offset="0.237" stop-color="#00ff21"/><stop offset="0.254" stop-color="#0aff00"/><stop offset="0.271" stop-color="#40ff00"/><stop offset="0.288" stop-color="#56ff00"/><stop offset="0.356" stop-color="#78ff00"/><stop offset="0.475" stop-color="#83ff00"/><stop offset="0.559" stop-color="#7fff00"/><stop offset="0.610" stop-color="#6bff00"/><stop offset="0.644" stop-color="#43ff00"/><stop offset="0.678" stop-color="#08ff00"/><stop offset="0.712" stop-color="#00ff34"/><stop offset="0.746" stop-color="#00ff79"/><stop offset="0.771" stop-color="#00ffc0"/><stop offset="0.788" stop-color="#00f3ff"/><stop offset="0.805" stop-color="#006dff"/><stop offset="0.822" stop-color="#0054ff"/><stop offset="0.890" stop-color="#003fff"/><stop offset="1.000" stop-color="#003aff"/></linearGradient><linearGradient id="h41" x1="0" y1="0" x2="0" y2="1"><stop offset="0.000" stop-color="#003aff"/><stop offset="0.144" stop-color="#0046ff"/><stop offset="0.178" stop-color="#005eff"/><stop offset="0.186" stop-color="#00a8ff"/><stop offset="0.195" stop-color="#00ffdf"/><stop offset="0.203" stop-color="#00ff88"/><stop offset="0.220" stop-color="#00ff46"/><stop offset="0.254" stop-color="#03ff00"/><stop offset="0.271" stop-color="#35ff00"/><stop offset="0.288" stop-color="#48ff00"/><stop offset="0.356" stop-color="#6aff00"/><stop offset="0.475" stop-color="#74ff00"/><stop offset="0.559" stop-color="#70ff00"/><stop offset="0.610" stop-color="#5dff00"/><stop offset="0.644" stop-color="#36ff00"/><stop offset="0.678" stop-color="#00ff02"/><stop offset="0.746" stop-color="#00ff7f"/><stop offset="0.771" stop-color="#00ffc2"/><stop offset="0.788" stop-color="#00f2ff"/><stop offset="0.805" stop-color="#006dff"/><stop offset="0.822" stop-color="#0054ff"/><stop offset="0.890" stop-color="#003fff"/><stop offset="1.000" stop-color="#003aff"/></linearGradient><linearGradient id="h42" x1="0" y1="0" x2="0" y2="1"><stop offset="0.000" stop-color="#003aff"/><stop offset="0.144" stop-color="#0046ff"/><stop offset="0.178" stop-color="#005eff"/><stop offset="0.186" stop-color="#00a8ff"/><stop offset="0.195" stop-color="#00ffdf"/><stop offset="0.203" stop-color="#00ff88"/><stop offset="0.220" stop-color="#00ff46"/><stop offset="0.254" stop-color="#09ff00"/><stop offset="0.271" stop-color="#3fff00"/><stop offset="0.288" stop-color="#55ff00"/><stop offset="0.356" stop-color="#77ff00"/><stop offset="0.475" stop-color="#82ff00"/><stop offset="0.559" stop-color="#7eff00"/><stop offset="0.610" stop-color="#6aff00"/><stop offset="0.644" stop-color="#42ff00"/><stop offset="0.678" stop-color="#07ff00"/><stop offset="0.712" stop-color="#00ff35"/><stop offset="0.746" stop-color="#00ff7a"/><stop offset="0.771" stop-color="#00ffc0"/><stop offset="0.788" stop-color="#00f3ff"/><stop offset="0.805" stop-color="#006dff"/><stop offset="0.822" stop-color="#0054ff"/><stop offset="0.890" stop-color="#003fff"/><stop offset="1.000" stop-color="#003aff"/></linearGradient><linearGradient id="h43" x1="0" y1="0" x2="0" y2="1"><stop offset="0.000" stop-color="#003aff"/><stop offset="0.144" stop-color="#0046ff"/><stop offset="0.178" stop-color="#005eff"/><stop offset="0.186" stop-color="#00a8ff"/><stop offset="0.195" stop-color="#00ffdf"/><stop offset="0.203" stop-color="#00ff88"/><stop offset="0.220" stop-color="#00ff45"/><stop offset="0.246" stop-color="#00ff07"/><stop offset="0.254" stop-color="#15ff00"/><stop offset="0.271" stop-color="#55ff00"/><stop offset="0.288" stop-color="#6eff00"/><stop offset="0.322" stop-color="#85ff00"/><stop offset="0.390" stop-color="#9cff00"/><stop offset="0.559" stop-color="#99ff00"/><stop offset="0.610" stop-color="#84ff00"/><stop offset="0.644" stop-color="#5bff00"/><stop offset="0.695" stop-color="#00ff08"/><stop offset="0.746" stop-color="#00ff70"/><stop offset="0.771" stop-color="#00ffbb"/><stop offset="0.788" stop-color="#00f4ff"/><stop offset="0.805" stop-color="#006dff"/><stop offset="0.822" stop-color="#0054ff"/><stop offset="0.890" stop-color="#003fff"/><stop offset="1.000" stop-color="#003aff"/></linearGradient><linearGradient id="h44" x1="0" y1="0" x2="0" y2="1"><stop offset="0.000" stop-color="#003aff"/><stop offset="0.144" stop-color="#0046ff"/><stop offset="0.178" stop-color="#005eff"/><stop offset="0.186" stop-color="#00a8ff"/><stop offset="0.195" stop-color="#00ffdf"/><stop offset="0.203" stop-color="#00ff88"/><stop offset="0.220" stop-color="#00ff45"/><stop offset="0.246" stop-color="#00ff08"/><stop offset="0.254" stop-color="#14ff00"/><stop offset="0.271" stop-color="#52ff00"/><stop offset="0.288" stop-color="#6aff00"/><stop offset="0.322" stop-color="#82ff00"/><stop offset="0.390" stop-color="#99ff00"/><stop offset="0.559" stop-color="#96ff00"/><stop offset="0.610" stop-color="#81ff00"/><stop offset="0.644" stop-color="#58ff00"/><stop offset="0.695" stop-color="#00ff09"/><stop offset="0.746" stop-color="#00ff71"/><stop offset="0.780" stop-color="#00ffd6"/><stop offset="0.788" stop-color="#00f4ff"/><stop offset="0.805" stop-color="#006dff"/><stop offset="0.822" stop-color="#0054ff"/><stop offset="0.847" stop-color="#0046ff"/><stop offset="1.000" stop-color="#003aff"/></linearGradient><linearGradient id="h45" x1="0" y1="0" x2="0" y2="1"><stop offset="0.000" stop-color="#003aff"/><stop offset="0.144" stop-color="#0046ff"/><stop offset="0.178" stop-color="#005eff"/><stop offset="0.186" stop-color="#00a8ff"/><stop offset="0.195" stop-color="#00ffdf"/><stop offset="0.203" stop-color="#00ff88"/><stop offset="0.220" stop-color="#00ff46"/><stop offset="0.254" stop-color="#05ff00"/><stop offset="0.271" stop-color="#37ff00"/><stop offset="0.288" stop-color="#4bff00"/><stop offset="0.356" stop-color="#6dff00"/><stop offset="0.475" stop-color="#77ff00"/><stop offset="0.559" stop-color="#73ff00"/><stop offset="0.610" stop-color="#5fff00"/><stop offset="0.644" stop-color="#38ff00"/><stop offset="0.678" stop-color="#00ff00"/><stop offset="0.746" stop-color="#00ff7d"/><stop offset="0.771" stop-color="#00ffc2"/><stop offset="0.788" stop-color="#00f2ff"/><stop offset="0.805" stop-color="#006dff"/><stop offset="0.822" stop-color="#0054ff"/><stop offset="0.890" stop-color="#003fff"/><stop offset="1.000" stop-color="#003aff"/></linearGradient><linearGradient id="h46" x1="0" y1="0" x2="0" y2="1"><stop offset="0.000" stop-color="#003aff"/><stop offset="0.144" stop-color="#0046ff"/><stop offset="0.178" stop-color="#005eff"/><stop offset="0.186" stop-color="#00a8ff"/><stop offset="0.195" stop-color="#00ffdf"/><stop offset="0.203" stop-color="#00ff88"/><stop offset="0.220" stop-color="#00ff48"/><stop offset="0.254" stop-color="#00ff0a"/><stop offset="0.288" stop-color="#28ff00"/><stop offset="0.390" stop-color="#4eff00"/><stop offset="0.559" stop-color="#4cff00"/><stop offset="0.610" stop-color="#3aff00"/><stop offset="0.661" stop-color="#00ff01"/><stop offset="0.678" stop-color="#00ff17"/><stop offset="0.746" stop-color="#00ff8b"/><stop offset="0.780" stop-color="#00ffde"/><stop offset="0.788" stop-color="#00f0ff"/><stop offset="0.805" stop-color="#006dff"/><stop offset="0.822" stop-color="#0054ff"/><stop offset="0.847" stop-color="#0046ff"/><stop offset="0.958" stop-color="#003bff"/><stop offset="1.000" stop-color="#003aff"/></linearGradient><linearGradient id="h47" x1="0" y1="0" x2="0" y2="1"><stop offset="0.000" stop-color="#003aff"/><stop offset="0.144" stop-color="#0046ff"/><stop offset="0.178" stop-color="#005eff"/><stop offset="0.186" stop-color="#00a8ff"/><stop offset="0.195" stop-color="#00ffdf"/><stop offset="0.203" stop-color="#00ff88"/><stop offset="0.220" stop-color="#00ff48"/><stop offset="0.254" stop-color="#00ff0a"/><stop offset="0.288" stop-color="#27ff00"/><stop offset="0.390" stop-color="#4dff00"/><stop offset="0.559" stop-color="#4aff00"/><stop offset="0.610" stop-color="#38ff00"/><stop offset="0.661" stop-color="#00ff02"/><stop offset="0.678" stop-color="#00ff18"/><stop offset="0.746" stop-color="#00ff8b"/><stop offset="0.780" stop-color="#00ffde"/><stop offset="0.788" stop-color="#00f0ff"/><stop offset="0.805" stop-color="#006dff"/><stop offset="0.822" stop-color="#0054ff"/><stop offset="0.847" stop-color="#0046ff"/><stop offset="0.958" stop-color="#003bff"/><stop offset="1.000" stop-color="#003aff"/></linearGradient><linearGradient id="h48" x1="0" y1="0" x2="0" y2="1"><stop offset="0.000" stop-color="#003aff"/><stop offset="0.144" stop-color="#0046ff"/><stop offset="0.178" stop-color="#005eff"/><stop offset="0.186" stop-color="#00a8ff"/><stop offset="0.195" stop-color="#00ffdf"/><stop offset="0.203" stop-color="#00ff88"/><stop offset="0.220" stop-color="#00ff47"/><stop offset="0.254" stop-color="#00ff04"/><stop offset="0.271" stop-color="#26ff00"/><stop offset="0.288" stop-color="#37ff00"/><stop offset="0.356" stop-color="#56ff00"/><stop offset="0.475" stop-color="#60ff00"/><stop offset="0.559" stop-color="#5cff00"/><stop offset="0.610" stop-color="#4aff00"/><stop offset="0.661" stop-color="#0cff00"/><stop offset="0.678" stop-color="#00ff0e"/><stop offset="0.712" stop-color="#00ff44"/><stop offset="0.746" stop-color="#00ff85"/><stop offset="0.771" stop-color="#00ffc6"/><stop offset="0.788" stop-color="#00f1ff"/><stop offset="0.805" stop-color="#006dff"/><stop offset="0.822" stop-color="#0054ff"/><stop offset="0.847" stop-color="#0046ff"/><stop offset="1.000" stop-color="#003aff"/></linearGradient><linearGradient id="h49" x1="0" y1="0" x2="0" y2="1"><stop offset="0.000" stop-color="#003aff"/><stop offset="0.144" stop-color="#0046ff"/><stop offset="0.178" stop-color="#005eff"/><stop offset="0.186" stop-color="#00a8ff"/><stop offset="0.195" stop-color="#00ffdf"/><stop offset="0.203" stop-color="#00ff88"/><stop offset="0.220" stop-color="#00ff47"/><stop offset="0.254" stop-color="#00ff02"/><stop offset="0.271" stop-color="#2aff00"/><stop offset="0.288" stop-color="#3bff00"/><stop offset="0.356" stop-color="#5bff00"/><stop offset="0.475" stop-color="#65ff00"/><stop offset="0.559" stop-color="#61ff00"/><stop offset="0.610" stop-color="#4eff00"/><stop offset="0.644" stop-color="#29ff00"/><stop offset="0.678" stop-color="#00ff0b"/><stop offset="0.746" stop-color="#00ff84"/><stop offset="0.771" stop-color="#00ffc5"/><stop offset="0.788" stop-color="#00f1ff"/><stop offset="0.805" stop-color="#006dff"/><stop offset="0.822" stop-color="#0054ff"/><stop offset="0.890" stop-color="#003fff"/><stop offset="1.000" stop-color="#003aff"/></linearGradient><linearGradient id="h50" x1="0" y1="0" x2="0" y2="1"><stop offset="0.000" stop-color="#003aff"/><stop offset="0.144" stop-color="#0046ff"/><stop offset="0.178" stop-color="#005eff"/><stop offset="0.186" stop-color="#00a8ff"/><stop offset="0.195" stop-color="#00ffdf"/><stop offset="0.203" stop-color="#00ff88"/><stop offset="0.220" stop-color="#00ff48"/><stop offset="0.254" stop-color="#00ff0b"/><stop offset="0.288" stop-color="#26ff00"/><stop offset="0.390" stop-color="#4bff00"/><stop offset="0.559" stop-color="#49ff00"/><stop offset="0.610" stop-color="#37ff00"/><stop offset="0.661" stop-color="#00ff03"/><stop offset="0.678" stop-color="#00ff19"/><stop offset="0.746" stop-color="#00ff8c"/><stop offset="0.780" stop-color="#00ffde"/><stop offset="0.788" stop-color="#00f0ff"/><stop offset="0.805" stop-color="#006dff"/><stop offset="0.822" stop-color="#0054ff"/><stop offset="0.847" stop-color="#0046ff"/><stop offset="0.958" stop-color="#003bff"/><stop offset="1.000" stop-color="#003aff"/></linearGradient><linearGradient id="h51" x1="0" y1="0" x2="0" y2="1"><stop offset="0.000" stop-color="#003aff"/><stop offset="0.144" stop-color="#0046ff"/><stop offset="0.178" stop-color="#005eff"/><stop offset="0.186" stop-color="#00a8ff"/><stop offset="0.195" stop-color="#00ffdf"/><stop offset="0.203" stop-color="#00ff88"/><stop offset="0.220" stop-color="#00ff48"/><stop offset="0.271" stop-color="#06ff00"/><stop offset="0.356" stop-color="#2eff00"/><stop offset="0.475" stop-color="#37ff00"/><stop offset="0.559" stop-color="#33ff00"/><stop offset="0.610" stop-color="#23ff00"/><stop offset="0.644" stop-color="#01ff00"/><stop offset="0.678" stop-color="#00ff26"/><stop offset="0.746" stop-color="#00ff93"/><stop offset="0.780" stop-color="#00ffe1"/><stop offset="0.788" stop-color="#00eeff"/><stop offset="0.805" stop-color="#006dff"/><stop offset="0.822" stop-color="#0054ff"/><stop offset="0.847" stop-color="#0046ff"/><stop offset="0.958" stop-color="#003bff"/><stop offset="1.000" stop-color="#003aff"/></linearGradient><linearGradient id="h52" x1="0" y1="0" x2="0" y2="1"><stop offset="0.000" stop-color="#003aff"/><stop offset="0.144" stop-color="#0046ff"/><stop offset="0.178" stop-color="#005eff"/><stop offset="0.186" stop-color="#00a8ff"/><stop offset="0.195" stop-color="#00ffdf"/><stop offset="0.203" stop-color="#00ff88"/><stop offset="0.220" stop-color="#00ff49"/><stop offset="0.271" stop-color="#01ff00"/><stop offset="0.356" stop-color="#27ff00"/><stop offset="0.475" stop-color="#2fff00"/><stop offset="0.559" stop-color="#2cff00"/><stop offset="0.610" stop-color="#1cff00"/><stop offset="0.644" stop-color="#00ff05"/><stop offset="0.678" stop-color="#00ff2a"/><stop offset="0.746" stop-color="#00ff95"/><stop offset="0.780" stop-color="#00ffe1"/><stop offset="0.788" stop-color="#00eeff"/><stop offset="0.805" stop-color="#006dff"/><stop offset="0.822" stop-color="#0054ff"/><stop offset="0.847" stop-color="#0046ff"/><stop offset="0.958" stop-color="#003bff"/><stop offset="1.000" stop-color="#003aff"/></linearGradient><linearGradient id="h53" x1="0" y1="0" x2="0" y2="1"><stop offset="0.000" stop-color="#003aff"/><stop offset="0.144" stop-color="#0046ff"/><stop offset="0.178" stop-color="#005eff"/><stop offset="0.186" stop-color="#00a8ff"/><stop offset="0.195" stop-color="#00ffdf"/><stop offset="0.203" stop-color="#00ff88"/><stop offset="0.220" stop-color="#00ff48"/><stop offset="0.271" stop-color="#06ff00"/><stop offset="0.356" stop-color="#2eff00"/><stop offset="0.475" stop-color="#37ff00"/><stop offset="0.559" stop-color="#33ff00"/><stop offset="0.610" stop-color="#23ff00"/><stop offset="0.644" stop-color="#01ff00"/><stop offset="0.678" stop-color="#00ff26"/><stop offset="0.746" stop-color="#00ff93"/><stop offset="0.780" stop-color="#00ffe1"/><stop offset="0.788" stop-color="#00eeff"/><stop offset="0.805" stop-color="#006dff"/><stop offset="0.822" stop-color="#0054ff"/><stop offset="0.847" stop-color="#0046ff"/><stop offset="0.958" stop-color="#003bff"/><stop offset="1.000" stop-color="#003aff"/></linearGradient><linearGradient id="h54" x1="0" y1="0" x2="0" y2="1"><stop offset="0.000" stop-color="#003aff"/><stop offset="0.144" stop-color="#0046ff"/><stop offset="0.178" stop-color="#005eff"/><stop offset="0.186" stop-color="#00a8ff"/><stop offset="0.195" stop-color="#00ffdf"/><stop offset="0.203" stop-color="#00ff88"/><stop offset="0.220" stop-color="#00ff49"/><stop offset="0.254" stop-color="#00ff1c"/><stop offset="0.288" stop-color="#00ff05"/><stop offset="0.390" stop-color="#19ff00"/><stop offset="0.559" stop-color="#17ff00"/><stop offset="0.610" stop-color="#08ff00"/><stop offset="0.644" stop-color="#00ff13"/><stop offset="0.712" stop-color="#00ff63"/><stop offset="0.780" stop-color="#00ffe4"/><stop offset="0.788" stop-color="#00edff"/><stop offset="0.805" stop-color="#006dff"/><stop offset="0.822" stop-color="#0054ff"/><stop offset="0.890" stop-color="#003fff"/><stop offset="1.000" stop-color="#003aff"/></linearGradient><linearGradient id="h55" x1="0" y1="0" x2="0" y2="1"><stop offset="0.000" stop-color="#003aff"/><stop offset="0.144" stop-color="#0046ff"/><stop offset="0.178" stop-color="#005eff"/><stop offset="0.186" stop-color="#00a8ff"/><stop offset="0.195" stop-color="#00ffdf"/><stop offset="0.203" stop-color="#00ff88"/><stop offset="0.220" stop-color="#00ff4a"/><stop offset="0.237" stop-color="#00ff31"/><stop offset="0.254" stop-color="#00ff22"/><stop offset="0.322" stop-color="#00ff07"/><stop offset="0.390" stop-color="#08ff00"/><stop offset="0.610" stop-color="#00ff07"/><stop offset="0.644" stop-color="#00ff1f"/><stop offset="0.712" stop-color="#00ff6c"/><stop offset="0.780" stop-color="#00ffe5"/><stop offset="0.788" stop-color="#00ecff"/><stop offset="0.805" stop-color="#006dff"/><stop offset="0.822" stop-color="#0054ff"/><stop offset="0.890" stop-color="#003fff"/><stop offset="1.000" stop-color="#003aff"/></linearGradient><linearGradient id="h56" x1="0" y1="0" x2="0" y2="1"><stop offset="0.000" stop-color="#003aff"/><stop offset="0.144" stop-color="#0046ff"/><stop offset="0.178" stop-color="#005eff"/><stop offset="0.186" stop-color="#00a8ff"/><stop offset="0.195" stop-color="#00ffdf"/><stop offset="0.203" stop-color="#00ff88"/><stop offset="0.220" stop-color="#00ff4a"/><stop offset="0.237" stop-color="#00ff32"/><stop offset="0.254" stop-color="#00ff24"/><stop offset="0.322" stop-color="#00ff0b"/><stop offset="0.390" stop-color="#03ff00"/><stop offset="0.559" stop-color="#01ff00"/><stop offset="0.610" stop-color="#00ff0b"/><stop offset="0.644" stop-color="#00ff23"/><stop offset="0.712" stop-color="#00ff6f"/><stop offset="0.780" stop-color="#00ffe6"/><stop offset="0.788" stop-color="#00ebff"/><stop offset="0.805" stop-color="#006dff"/><stop offset="0.822" stop-color="#0054ff"/><stop offset="0.890" stop-color="#003fff"/><stop offset="1.000" stop-color="#003aff"/></linearGradient><linearGradient id="h57" x1="0" y1="0" x2="0" y2="1"><stop offset="0.000" stop-color="#003aff"/><stop offset="0.144" stop-color="#0046ff"/><stop offset="0.178" stop-color="#005eff"/><stop offset="0.186" stop-color="#00a6ff"/><stop offset="0.195" stop-color="#00ffe2"/><stop offset="0.203" stop-color="#00ff8c"/><stop offset="0.220" stop-color="#00ff4e"/><stop offset="0.237" stop-color="#00ff36"/><stop offset="0.254" stop-color="#00ff29"/><stop offset="0.390" stop-color="#00ff04"/><stop offset="0.559" stop-color="#00ff06"/><stop offset="0.610" stop-color="#00ff11"/><stop offset="0.644" stop-color="#00ff29"/><stop offset="0.712" stop-color="#00ff74"/><stop offset="0.780" stop-color="#00ffe9"/><stop offset="0.788" stop-color="#00e9ff"/><stop offset="0.805" stop-color="#006cff"/><stop offset="0.822" stop-color="#0054ff"/><stop offset="0.890" stop-color="#003fff"/><stop offset="1.000" stop-color="#003aff"/></linearGradient><linearGradient id="h58" x1="0" y1="0" x2="0" y2="1"><stop offset="0.000" stop-color="#003aff"/><stop offset="0.144" stop-color="#0046ff"/><stop offset="0.178" stop-color="#005eff"/><stop offset="0.186" stop-color="#00a3ff"/><stop offset="0.195" stop-color="#00ffe8"/><stop offset="0.203" stop-color="#00ff93"/><stop offset="0.220" stop-color="#00ff55"/><stop offset="0.237" stop-color="#00ff3e"/><stop offset="0.254" stop-color="#00ff31"/><stop offset="0.390" stop-color="#00ff0d"/><stop offset="0.559" stop-color="#00ff0e"/><stop offset="0.610" stop-color="#00ff19"/><stop offset="0.644" stop-color="#00ff31"/><stop offset="0.712" stop-color="#00ff7c"/><stop offset="0.780" stop-color="#00ffee"/><stop offset="0.788" stop-color="#00e3ff"/><stop offset="0.805" stop-color="#006cff"/><stop offset="0.822" stop-color="#0054ff"/><stop offset="0.890" stop-color="#003fff"/><stop offset="1.000" stop-color="#003aff"/></linearGradient><linearGradient id="h59" x1="0" y1="0" x2="0" y2="1"><stop offset="0.000" stop-color="#003aff"/><stop offset="0.144" stop-color="#0046ff"/><stop offset="0.178" stop-color="#005eff"/><stop offset="0.186" stop-color="#009fff"/><stop offset="0.195" stop-color="#00ffed"/><stop offset="0.203" stop-color="#00ff9b"/><stop offset="0.220" stop-color="#00ff5c"/><stop offset="0.254" stop-color="#00ff38"/><stop offset="0.322" stop-color="#00ff22"/><stop offset="0.390" stop-color="#00ff15"/><stop offset="0.559" stop-color="#00ff17"/><stop offset="0.610" stop-color="#00ff22"/><stop offset="0.644" stop-color="#00ff39"/><stop offset="0.678" stop-color="#00ff57"/><stop offset="0.712" stop-color="#00ff84"/><stop offset="0.780" stop-color="#00fff4"/><stop offset="0.788" stop-color="#00deff"/><stop offset="0.805" stop-color="#006bff"/><stop offset="0.822" stop-color="#0054ff"/><stop offset="0.890" stop-color="#003fff"/><stop offset="1.000" stop-color="#003aff"/></linearGradient><linearGradient id="h60" x1="0" y1="0" x2="0" y2="1"><stop offset="0.000" stop-color="#003aff"/><stop offset="0.144" stop-color="#0046ff"/><stop offset="0.178" stop-color="#005dff"/><stop offset="0.186" stop-color="#009fff"/><stop offset="0.195" stop-color="#00ffee"/><stop offset="0.203" stop-color="#00ff9c"/><stop offset="0.220" stop-color="#00ff5e"/><stop offset="0.237" stop-color="#00ff47"/><stop offset="0.254" stop-color="#00ff3a"/><stop offset="0.390" stop-color="#00ff17"/><stop offset="0.559" stop-color="#00ff19"/><stop offset="0.610" stop-color="#00ff23"/><stop offset="0.644" stop-color="#00ff3a"/><stop offset="0.712" stop-color="#00ff86"/><stop offset="0.780" stop-color="#00fff5"/><stop offset="0.788" stop-color="#00ddff"/><stop offset="0.805" stop-color="#006bff"/><stop offset="0.822" stop-color="#0054ff"/><stop offset="0.890" stop-color="#003fff"/><stop offset="1.000" stop-color="#003aff"/></linearGradient><linearGradient id="h61" x1="0" y1="0" x2="0" y2="1"><stop offset="0.000" stop-color="#003aff"/><stop offset="0.144" stop-color="#0046ff"/><stop offset="0.178" stop-color="#005eff"/><stop offset="0.186" stop-color="#00a1ff"/><stop offset="0.195" stop-color="#00ffeb"/><stop offset="0.203" stop-color="#00ff98"/><stop offset="0.220" stop-color="#00ff59"/><stop offset="0.237" stop-color="#00ff43"/><stop offset="0.254" stop-color="#00ff36"/><stop offset="0.390" stop-color="#00ff12"/><stop offset="0.559" stop-color="#00ff14"/><stop offset="0.610" stop-color="#00ff1f"/><stop offset="0.678" stop-color="#00ff54"/><stop offset="0.771" stop-color="#00ffe1"/><stop offset="0.780" stop-color="#00fff2"/><stop offset="0.788" stop-color="#00e0ff"/><stop offset="0.805" stop-color="#006bff"/><stop offset="0.822" stop-color="#0054ff"/><stop offset="0.890" stop-color="#003fff"/><stop offset="1.000" stop-color="#003aff"/></linearGradient><linearGradient id="h62" x1="0" y1="0" x2="0" y2="1"><stop offset="0.000" stop-color="#003aff"/><stop offset="0.144" stop-color="#0046ff"/><stop offset="0.178" stop-color="#005eff"/><stop offset="0.186" stop-color="#00a3ff"/><stop offset="0.195" stop-color="#00ffe8"/><stop offset="0.203" stop-color="#00ff94"/><stop offset="0.220" stop-color="#00ff55"/><stop offset="0.254" stop-color="#00ff31"/><stop offset="0.322" stop-color="#00ff1a"/><stop offset="0.390" stop-color="#00ff0d"/><stop offset="0.559" stop-color="#00ff0f"/><stop offset="0.610" stop-color="#00ff1a"/><stop offset="0.644" stop-color="#00ff31"/><stop offset="0.678" stop-color="#00ff50"/><stop offset="0.712" stop-color="#00ff7d"/><stop offset="0.780" stop-color="#00ffef"/><stop offset="0.788" stop-color="#00e3ff"/><stop offset="0.805" stop-color="#006cff"/><stop offset="0.822" stop-color="#0054ff"/><stop offset="0.890" stop-color="#003fff"/><stop offset="1.000" stop-color="#003aff"/></linearGradient><linearGradient id="h63" x1="0" y1="0" x2="0" y2="1"><stop offset="0.000" stop-color="#003aff"/><stop offset="0.144" stop-color="#0046ff"/><stop offset="0.178" stop-color="#005eff"/><stop offset="0.186" stop-color="#00a4ff"/><stop offset="0.195" stop-color="#00ffe5"/><stop offset="0.203" stop-color="#00ff8f"/><stop offset="0.220" stop-color="#00ff51"/><stop offset="0.237" stop-color="#00ff3a"/><stop offset="0.254" stop-color="#00ff2d"/><stop offset="0.390" stop-color="#00ff08"/><stop offset="0.559" stop-color="#00ff0a"/><stop offset="0.610" stop-color="#00ff15"/><stop offset="0.644" stop-color="#00ff2d"/><stop offset="0.712" stop-color="#00ff78"/><stop offset="0.780" stop-color="#00ffec"/><stop offset="0.788" stop-color="#00e6ff"/><stop offset="0.805" stop-color="#006cff"/><stop offset="0.822" stop-color="#0054ff"/><stop offset="0.890" stop-color="#003fff"/><stop offset="1.000" stop-color="#003aff"/></linearGradient><linearGradient id="h64" x1="0" y1="0" x2="0" y2="1"><stop offset="0.000" stop-color="#003aff"/><stop offset="0.144" stop-color="#0046ff"/><stop offset="0.178" stop-color="#005eff"/><stop offset="0.186" stop-color="#00a4ff"/><stop offset="0.195" stop-color="#00ffe5"/><stop offset="0.203" stop-color="#00ff8f"/><stop offset="0.220" stop-color="#00ff51"/><stop offset="0.237" stop-color="#00ff3a"/><stop offset="0.254" stop-color="#00ff2d"/><stop offset="0.390" stop-color="#00ff08"/><stop offset="0.559" stop-color="#00ff0a"/><stop offset="0.610" stop-color="#00ff15"/><stop offset="0.644" stop-color="#00ff2d"/><stop offset="0.712" stop-color="#00ff78"/><stop offset="0.780" stop-color="#00ffec"/><stop offset="0.788" stop-color="#00e6ff"/><stop offset="0.805" stop-color="#006cff"/><stop offset="0.822" stop-color="#0054ff"/><stop offset="0.890" stop-color="#003fff"/><stop offset="1.000" stop-color="#003aff"/></linearGradient><linearGradient id="h65" x1="0" y1="0" x2="0" y2="1"><stop offset="0.000" stop-color="#003aff"/><stop offset="0.144" stop-color="#0046ff"/><stop offset="0.178" stop-color="#005eff"/><stop offset="0.186" stop-color="#00a4ff"/><stop offset="0.195" stop-color="#00ffe5"/><stop offset="0.203" stop-color="#00ff8f"/><stop offset="0.220" stop-color="#00ff51"/><stop offset="0.237" stop-color="#00ff3a"/><stop offset="0.254" stop-color="#00ff2d"/><stop offset="0.390" stop-color="#00ff08"/><stop offset="0.559" stop-color="#00ff0a"/><stop offset="0.610" stop-color="#00ff15"/><stop offset="0.644" stop-color="#00ff2d"/><stop offset="0.712" stop-color="#00ff78"/><stop offset="0.780" stop-color="#00ffec"/><stop offset="0.788" stop-color="#00e6ff"/><stop offset="0.805" stop-color="#006cff"/><stop offset="0.822" stop-color="#0054ff"/><stop offset="0.890" stop-color="#003fff"/><stop offset="1.000" stop-color="#003aff"/></linearGradient><linearGradient id="h66" x1="0" y1="0" x2="0" y2="1"><stop offset="0.000" stop-color="#003aff"/><stop offset="0.144" stop-color="#0046ff"/><stop offset="0.178" stop-color="#005eff"/><stop offset="0.186" stop-color="#00a4ff"/><stop offset="0.195" stop-color="#00ffe5"/><stop offset="0.203" stop-color="#00ff8f"/><stop offset="0.220" stop-color="#00ff51"/><stop offset="0.237" stop-color="#00ff3a"/><stop offset="0.254" stop-color="#00ff2d"/><stop offset="0.390" stop-color="#00ff08"/><stop offset="0.559" stop-color="#00ff0a"/><stop offset="0.610" stop-color="#00ff15"/><stop offset="0.644" stop-color="#00ff2d"/><stop offset="0.712" stop-color="#00ff78"/><stop offset="0.780" stop-color="#00ffec"/><stop offset="0.788" stop-color="#00e6ff"/><stop offset="0.805" stop-color="#006cff"/><stop offset="0.822" stop-color="#0054ff"/><stop offset="0.890" stop-color="#003fff"/><stop offset="1.000" stop-color="#003aff"/></linearGradient><linearGradient id="h67" x1="0" y1="0" x2="0" y2="1"><stop offset="0.000" stop-color="#003aff"/><stop offset="0.144" stop-color="#0046ff"/><stop offset="0.178" stop-color="#005eff"/><stop offset="0.186" stop-color="#00a4ff"/><stop offset="0.195" stop-color="#00ffe5"/><stop offset="0.203" stop-color="#00ff8f"/><stop offset="0.220" stop-color="#00ff51"/><stop offset="0.237" stop-color="#00ff3a"/><stop offset="0.254" stop-color="#00ff2d"/><stop offset="0.390" stop-color="#00ff08"/><stop offset="0.559" stop-color="#00ff0a"/><stop offset="0.610" stop-color="#00ff15"/><stop offset="0.644" stop-color="#00ff2d"/><stop offset="0.712" stop-color="#00ff78"/><stop offset="0.780" stop-color="#00ffec"/><stop offset="0.788" stop-color="#00e6ff"/><stop offset="0.805" stop-color="#006cff"/><stop offset="0.822" stop-color="#0054ff"/><stop offset="0.890" stop-color="#003fff"/><stop offset="1.000" stop-color="#003aff"/></linearGradient><linearGradient id="h68" x1="0" y1="0" x2="0" y2="1"><stop offset="0.000" stop-color="#003aff"/><stop offset="0.144" stop-color="#0046ff"/><stop offset="0.178" stop-color="#005eff"/><stop offset="0.186" stop-color="#00a2ff"/><stop offset="0.195" stop-color="#00ffea"/><stop offset="0.203" stop-color="#00ff96"/><stop offset="0.220" stop-color="#00ff57"/><stop offset="0.254" stop-color="#00ff33"/><stop offset="0.322" stop-color="#00ff1c"/><stop offset="0.390" stop-color="#00ff10"/><stop offset="0.559" stop-color="#00ff12"/><stop offset="0.610" stop-color="#00ff1c"/><stop offset="0.644" stop-color="#00ff34"/><stop offset="0.678" stop-color="#00ff52"/><stop offset="0.712" stop-color="#00ff7f"/><stop offset="0.780" stop-color="#00fff0"/><stop offset="0.788" stop-color="#00e1ff"/><stop offset="0.805" stop-color="#006cff"/><stop offset="0.822" stop-color="#0054ff"/><stop offset="0.890" stop-color="#003fff"/><stop offset="1.000" stop-color="#003aff"/></linearGradient><linearGradient id="h69" x1="0" y1="0" x2="0" y2="1"><stop offset="0.000" stop-color="#003aff"/><stop offset="0.144" stop-color="#0046ff"/><stop offset="0.178" stop-color="#005dff"/><stop offset="0.186" stop-color="#009fff"/><stop offset="0.195" stop-color="#00ffee"/><stop offset="0.203" stop-color="#00ff9c"/><stop offset="0.220" stop-color="#00ff5e"/><stop offset="0.237" stop-color="#00ff47"/><stop offset="0.254" stop-color="#00ff3a"/><stop offset="0.390" stop-color="#00ff17"/><stop offset="0.559" stop-color="#00ff19"/><stop offset="0.610" stop-color="#00ff23"/><stop offset="0.644" stop-color="#00ff3a"/><stop offset="0.712" stop-color="#00ff86"/><stop offset="0.780" stop-color="#00fff5"/><stop offset="0.788" stop-color="#00ddff"/><stop offset="0.805" stop-color="#006bff"/><stop offset="0.822" stop-color="#0054ff"/><stop offset="0.890" stop-color="#003fff"/><stop offset="1.000" stop-color="#003aff"/></linearGradient><linearGradient id="h70" x1="0" y1="0" x2="0" y2="1"><stop offset="0.000" stop-color="#003aff"/><stop offset="0.144" stop-color="#0046ff"/><stop offset="0.178" stop-color="#005dff"/><stop offset="0.186" stop-color="#009cff"/><stop offset="0.195" stop-color="#00fff3"/><stop offset="0.203" stop-color="#00ffa2"/><stop offset="0.220" stop-color="#00ff64"/><stop offset="0.237" stop-color="#00ff4d"/><stop offset="0.254" stop-color="#00ff41"/><stop offset="0.390" stop-color="#00ff1f"/><stop offset="0.559" stop-color="#00ff20"/><stop offset="0.610" stop-color="#00ff2b"/><stop offset="0.678" stop-color="#00ff5f"/><stop offset="0.712" stop-color="#00ff8c"/><stop offset="0.771" stop-color="#00ffea"/><stop offset="0.780" stop-color="#00fff9"/><stop offset="0.788" stop-color="#00d8ff"/><stop offset="0.805" stop-color="#006aff"/><stop offset="0.822" stop-color="#0054ff"/><stop offset="0.890" stop-color="#003fff"/><stop offset="1.000" stop-color="#003aff"/></linearGradient><linearGradient id="h71" x1="0" y1="0" x2="0" y2="1"><stop offset="0.000" stop-color="#003aff"/><stop offset="0.144" stop-color="#0046ff"/><stop offset="0.178" stop-color="#005dff"/><stop offset="0.186" stop-color="#009eff"/><stop offset="0.195" stop-color="#00ffef"/><stop offset="0.203" stop-color="#00ff9d"/><stop offset="0.220" stop-color="#00ff5f"/><stop offset="0.237" stop-color="#00ff48"/><stop offset="0.254" stop-color="#00ff3b"/><stop offset="0.390" stop-color="#00ff18"/><stop offset="0.559" stop-color="#00ff1a"/><stop offset="0.610" stop-color="#00ff25"/><stop offset="0.644" stop-color="#00ff3b"/><stop offset="0.712" stop-color="#00ff87"/><stop offset="0.780" stop-color="#00fff6"/><stop offset="0.788" stop-color="#00dcff"/><stop offset="0.805" stop-color="#006bff"/><stop offset="0.822" stop-color="#0054ff"/><stop offset="0.890" stop-color="#003fff"/><stop offset="1.000" stop-color="#003aff"/></linearGradient><linearGradient id="h72" x1="0" y1="0" x2="0" y2="1"><stop offset="0.000" stop-color="#003aff"/><stop offset="0.144" stop-color="#0046ff"/><stop offset="0.178" stop-color="#005eff"/><stop offset="0.186" stop-color="#00a6ff"/><stop offset="0.195" stop-color="#00ffe3"/><stop offset="0.203" stop-color="#00ff8c"/><stop offset="0.220" stop-color="#00ff4e"/><stop offset="0.237" stop-color="#00ff37"/><stop offset="0.254" stop-color="#00ff29"/><stop offset="0.390" stop-color="#00ff05"/><stop offset="0.559" stop-color="#00ff06"/><stop offset="0.610" stop-color="#00ff11"/><stop offset="0.644" stop-color="#00ff29"/><stop offset="0.712" stop-color="#00ff75"/><stop offset="0.780" stop-color="#00ffe9"/><stop offset="0.788" stop-color="#00e8ff"/><stop offset="0.805" stop-color="#006cff"/><stop offset="0.822" stop-color="#0054ff"/><stop offset="0.890" stop-color="#003fff"/><stop offset="1.000" stop-color="#003aff"/></linearGradient><linearGradient id="h73" x1="0" y1="0" x2="0" y2="1"><stop offset="0.000" stop-color="#003aff"/><stop offset="0.144" stop-color="#0046ff"/><stop offset="0.178" stop-color="#005eff"/><stop offset="0.186" stop-color="#00a8ff"/><stop offset="0.195" stop-color="#00ffdf"/><stop offset="0.203" stop-color="#00ff88"/><stop offset="0.220" stop-color="#00ff49"/><stop offset="0.254" stop-color="#00ff19"/><stop offset="0.288" stop-color="#02ff00"/><stop offset="0.390" stop-color="#23ff00"/><stop offset="0.559" stop-color="#20ff00"/><stop offset="0.610" stop-color="#11ff00"/><stop offset="0.627" stop-color="#01ff00"/><stop offset="0.678" stop-color="#00ff31"/><stop offset="0.746" stop-color="#00ff9a"/><stop offset="0.780" stop-color="#00ffe3"/><stop offset="0.788" stop-color="#00edff"/><stop offset="0.805" stop-color="#006dff"/><stop offset="0.822" stop-color="#0054ff"/><stop offset="0.847" stop-color="#0046ff"/><stop offset="1.000" stop-color="#003aff"/></linearGradient><linearGradient id="h74" x1="0" y1="0" x2="0" y2="1"><stop offset="0.000" stop-color="#003aff"/><stop offset="0.144" stop-color="#0046ff"/><stop offset="0.178" stop-color="#005eff"/><stop offset="0.186" stop-color="#00a8ff"/><stop offset="0.195" stop-color="#00ffdf"/><stop offset="0.203" stop-color="#00ff88"/><stop offset="0.220" stop-color="#00ff48"/><stop offset="0.254" stop-color="#00ff09"/><stop offset="0.288" stop-color="#2aff00"/><stop offset="0.390" stop-color="#51ff00"/><stop offset="0.559" stop-color="#4eff00"/><stop offset="0.610" stop-color="#3cff00"/><stop offset="0.661" stop-color="#00ff00"/><stop offset="0.678" stop-color="#00ff16"/><stop offset="0.746" stop-color="#00ff8a"/><stop offset="0.780" stop-color="#00ffde"/><stop offset="0.788" stop-color="#00f0ff"/><stop offset="0.805" stop-color="#006dff"/><stop offset="0.822" stop-color="#0054ff"/><stop offset="0.847" stop-color="#0046ff"/><stop offset="0.958" stop-color="#003bff"/><stop offset="1.000" stop-color="#003aff"/></linearGradient><linearGradient id="h75" x1="0" y1="0" x2="0" y2="1"><stop offset="0.000" stop-color="#003aff"/><stop offset="0.144" stop-color="#0046ff"/><stop offset="0.178" stop-color="#005eff"/><stop offset="0.186" stop-color="#00a8ff"/><stop offset="0.195" stop-color="#00ffdf"/><stop offset="0.203" stop-color="#00ff88"/><stop offset="0.220" stop-color="#00ff48"/><stop offset="0.254" stop-color="#00ff0a"/><stop offset="0.288" stop-color="#28ff00"/><stop offset="0.390" stop-color="#4eff00"/><stop offset="0.559" stop-color="#4cff00"/><stop offset="0.610" stop-color="#3aff00"/><stop offset="0.661" stop-color="#00ff01"/><stop offset="0.678" stop-color="#00ff17"/><stop offset="0.746" stop-color="#00ff8b"/><stop offset="0.780" stop-color="#00ffde"/><stop offset="0.788" stop-color="#00f0ff"/><stop offset="0.805" stop-color="#006dff"/><stop offset="0.822" stop-color="#0054ff"/><stop offset="0.847" stop-color="#0046ff"/><stop offset="0.958" stop-color="#003bff"/><stop offset="1.000" stop-color="#003aff"/></linearGradient><linearGradient id="h76" x1="0" y1="0" x2="0" y2="1"><stop offset="0.000" stop-color="#003aff"/><stop offset="0.144" stop-color="#0046ff"/><stop offset="0.178" stop-color="#005eff"/><stop offset="0.186" stop-color="#00a8ff"/><stop offset="0.195" stop-color="#00ffdf"/><stop offset="0.203" stop-color="#00ff88"/><stop offset="0.220" stop-color="#00ff48"/><stop offset="0.271" stop-color="#04ff00"/><stop offset="0.356" stop-color="#2aff00"/><stop offset="0.559" stop-color="#30ff00"/><stop offset="0.610" stop-color="#1fff00"/><stop offset="0.644" stop-color="#00ff02"/><stop offset="0.678" stop-color="#00ff28"/><stop offset="0.746" stop-color="#00ff94"/><stop offset="0.780" stop-color="#00ffe1"/><stop offset="0.788" stop-color="#00eeff"/><stop offset="0.805" stop-color="#006dff"/><stop offset="0.822" stop-color="#0054ff"/><stop offset="0.847" stop-color="#0046ff"/><stop offset="1.000" stop-color="#003aff"/></linearGradient><linearGradient id="h77" x1="0" y1="0" x2="0" y2="1"><stop offset="0.000" stop-color="#003aff"/><stop offset="0.144" stop-color="#0046ff"/><stop offset="0.178" stop-color="#005eff"/><stop offset="0.186" stop-color="#00a8ff"/><stop offset="0.195" stop-color="#00ffdf"/><stop offset="0.203" stop-color="#00ff88"/><stop offset="0.220" stop-color="#00ff4a"/><stop offset="0.237" stop-color="#00ff31"/><stop offset="0.254" stop-color="#00ff20"/><stop offset="0.322" stop-color="#00ff03"/><stop offset="0.390" stop-color="#0dff00"/><stop offset="0.559" stop-color="#0aff00"/><stop offset="0.610" stop-color="#00ff03"/><stop offset="0.644" stop-color="#00ff1c"/><stop offset="0.712" stop-color="#00ff6a"/><stop offset="0.780" stop-color="#00ffe5"/><stop offset="0.788" stop-color="#00ecff"/><stop offset="0.805" stop-color="#006dff"/><stop offset="0.822" stop-color="#0054ff"/><stop offset="0.890" stop-color="#003fff"/><stop offset="1.000" stop-color="#003aff"/></linearGradient><linearGradient id="h78" x1="0" y1="0" x2="0" y2="1"><stop offset="0.000" stop-color="#003aff"/><stop offset="0.144" stop-color="#0046ff"/><stop offset="0.178" stop-color="#005eff"/><stop offset="0.186" stop-color="#00a8ff"/><stop offset="0.195" stop-color="#00ffdf"/><stop offset="0.203" stop-color="#00ff88"/><stop offset="0.220" stop-color="#00ff49"/><stop offset="0.254" stop-color="#00ff18"/><stop offset="0.288" stop-color="#04ff00"/><stop offset="0.390" stop-color="#25ff00"/><stop offset="0.559" stop-color="#22ff00"/><stop offset="0.610" stop-color="#12ff00"/><stop offset="0.644" stop-color="#00ff0c"/><stop offset="0.712" stop-color="#00ff5e"/><stop offset="0.771" stop-color="#00ffcf"/><stop offset="0.780" stop-color="#00ffe3"/><stop offset="0.788" stop-color="#00edff"/><stop offset="0.805" stop-color="#006dff"/><stop offset="0.822" stop-color="#0054ff"/><stop offset="0.890" stop-color="#003fff"/><stop offset="1.000" stop-color="#003aff"/></linearGradient><linearGradient id="h79" x1="0" y1="0" x2="0" y2="1"><stop offset="0.000" stop-color="#003aff"/><stop offset="0.144" stop-color="#0046ff"/><stop offset="0.178" stop-color="#005eff"/><stop offset="0.186" stop-color="#00a8ff"/><stop offset="0.195" stop-color="#00ffdf"/><stop offset="0.203" stop-color="#00ff88"/><stop offset="0.220" stop-color="#00ff47"/><stop offset="0.254" stop-color="#00ff05"/><stop offset="0.271" stop-color="#24ff00"/><stop offset="0.288" stop-color="#35ff00"/><stop offset="0.356" stop-color="#54ff00"/><stop offset="0.559" stop-color="#5aff00"/><stop offset="0.610" stop-color="#47ff00"/><stop offset="0.661" stop-color="#0aff00"/><stop offset="0.678" stop-color="#00ff0f"/><stop offset="0.746" stop-color="#00ff86"/><stop offset="0.771" stop-color="#00ffc6"/><stop offset="0.788" stop-color="#00f1ff"/><stop offset="0.805" stop-color="#006dff"/><stop offset="0.822" stop-color="#0054ff"/><stop offset="0.847" stop-color="#0046ff"/><stop offset="1.000" stop-color="#003aff"/></linearGradient><linearGradient id="h80" x1="0" y1="0" x2="0" y2="1"><stop offset="0.000" stop-color="#003aff"/><stop offset="0.144" stop-color="#0046ff"/><stop offset="0.178" stop-color="#005eff"/><stop offset="0.186" stop-color="#00a8ff"/><stop offset="0.195" stop-color="#00ffdf"/><stop offset="0.203" stop-color="#00ff88"/><stop offset="0.220" stop-color="#00ff45"/><stop offset="0.246" stop-color="#00ff06"/><stop offset="0.271" stop-color="#59ff00"/><stop offset="0.288" stop-color="#72ff00"/><stop offset="0.322" stop-color="#89ff00"/><stop offset="0.390" stop-color="#a0ff00"/><stop offset="0.559" stop-color="#9eff00"/><stop offset="0.610" stop-color="#89ff00"/><stop offset="0.644" stop-color="#5fff00"/><stop offset="0.695" stop-color="#00ff05"/><stop offset="0.746" stop-color="#00ff6f"/><stop offset="0.780" stop-color="#00ffd5"/><stop offset="0.788" stop-color="#00f5ff"/><stop offset="0.805" stop-color="#006dff"/><stop offset="0.822" stop-color="#0054ff"/><stop offset="0.847" stop-color="#0046ff"/><stop offset="0.958" stop-color="#003bff"/><stop offset="1.000" stop-color="#003aff"/></linearGradient><linearGradient id="h81" x1="0" y1="0" x2="0" y2="1"><stop offset="0.000" stop-color="#003aff"/><stop offset="0.144" stop-color="#0046ff"/><stop offset="0.178" stop-color="#005eff"/><stop offset="0.186" stop-color="#00a8ff"/><stop offset="0.195" stop-color="#00ffdf"/><stop offset="0.203" stop-color="#00ff88"/><stop offset="0.220" stop-color="#00ff45"/><stop offset="0.246" stop-color="#00ff08"/><stop offset="0.254" stop-color="#14ff00"/><stop offset="0.271" stop-color="#52ff00"/><stop offset="0.288" stop-color="#6aff00"/><stop offset="0.322" stop-color="#82ff00"/><stop offset="0.390" stop-color="#99ff00"/><stop offset="0.559" stop-color="#96ff00"/><stop offset="0.610" stop-color="#81ff00"/><stop offset="0.644" stop-color="#58ff00"/><stop offset="0.695" stop-color="#00ff09"/><stop offset="0.746" stop-color="#00ff71"/><stop offset="0.780" stop-color="#00ffd6"/><stop offset="0.788" stop-color="#00f4ff"/><stop offset="0.805" stop-color="#006dff"/><stop offset="0.822" stop-color="#0054ff"/><stop offset="0.847" stop-color="#0046ff"/><stop offset="1.000" stop-color="#003aff"/></linearGradient><linearGradient id="h82" x1="0" y1="0" x2="0" y2="1"><stop offset="0.000" stop-color="#003aff"/><stop offset="0.144" stop-color="#0046ff"/><stop offset="0.178" stop-color="#005eff"/><stop offset="0.186" stop-color="#00a8ff"/><stop offset="0.195" stop-color="#00ffdf"/><stop offset="0.203" stop-color="#00ff88"/><stop offset="0.220" stop-color="#00ff47"/><stop offset="0.254" stop-color="#00ff09"/><stop offset="0.288" stop-color="#2cff00"/><stop offset="0.390" stop-color="#52ff00"/><stop offset="0.559" stop-color="#50ff00"/><stop offset="0.610" stop-color="#3eff00"/><stop offset="0.661" stop-color="#02ff00"/><stop offset="0.678" stop-color="#00ff15"/><stop offset="0.746" stop-color="#00ff89"/><stop offset="0.780" stop-color="#00ffde"/><stop offset="0.788" stop-color="#00f0ff"/><stop offset="0.805" stop-color="#006dff"/><stop offset="0.822" stop-color="#0054ff"/><stop offset="0.847" stop-color="#0046ff"/><stop offset="0.958" stop-color="#003bff"/><stop offset="1.000" stop-color="#003aff"/></linearGradient><linearGradient id="h83" x1="0" y1="0" x2="0" y2="1"><stop offset="0.000" stop-color="#003aff"/><stop offset="0.144" stop-color="#0046ff"/><stop offset="0.178" stop-color="#005eff"/><stop offset="0.186" stop-color="#00a8ff"/><stop offset="0.195" stop-color="#00ffdf"/><stop offset="0.203" stop-color="#00ff88"/><stop offset="0.220" stop-color="#00ff49"/><stop offset="0.254" stop-color="#00ff17"/><stop offset="0.271" stop-color="#00ff03"/><stop offset="0.356" stop-color="#21ff00"/><stop offset="0.475" stop-color="#29ff00"/><stop offset="0.559" stop-color="#26ff00"/><stop offset="0.610" stop-color="#16ff00"/><stop offset="0.644" stop-color="#00ff09"/><stop offset="0.678" stop-color="#00ff2d"/><stop offset="0.746" stop-color="#00ff97"/><stop offset="0.780" stop-color="#00ffe2"/><stop offset="0.788" stop-color="#00eeff"/><stop offset="0.805" stop-color="#006dff"/><stop offset="0.822" stop-color="#0054ff"/><stop offset="0.847" stop-color="#0046ff"/><stop offset="1.000" stop-color="#003aff"/></linearGradient><linearGradient id="h84" x1="0" y1="0" x2="0" y2="1"><stop offset="0.000" stop-color="#003aff"/><stop offset="0.144" stop-color="#0046ff"/><stop offset="0.178" stop-color="#005eff"/><stop offset="0.186" stop-color="#00a8ff"/><stop offset="0.195" stop-color="#00ffdf"/><stop offset="0.203" stop-color="#00ff88"/><stop offset="0.220" stop-color="#00ff4a"/><stop offset="0.237" stop-color="#00ff30"/><stop offset="0.254" stop-color="#00ff1f"/><stop offset="0.322" stop-color="#00ff00"/><stop offset="0.390" stop-color="#11ff00"/><stop offset="0.559" stop-color="#0fff00"/><stop offset="0.610" stop-color="#00ff00"/><stop offset="0.644" stop-color="#00ff19"/><stop offset="0.712" stop-color="#00ff67"/><stop offset="0.780" stop-color="#00ffe5"/><stop offset="0.788" stop-color="#00ecff"/><stop offset="0.805" stop-color="#006dff"/><stop offset="0.822" stop-color="#0054ff"/><stop offset="0.890" stop-color="#003fff"/><stop offset="1.000" stop-color="#003aff"/></linearGradient><linearGradient id="h85" x1="0" y1="0" x2="0" y2="1"><stop offset="0.000" stop-color="#003aff"/><stop offset="0.144" stop-color="#0046ff"/><stop offset="0.178" stop-color="#005eff"/><stop offset="0.186" stop-color="#00a8ff"/><stop offset="0.195" stop-color="#00ffdf"/><stop offset="0.203" stop-color="#00ff88"/><stop offset="0.220" stop-color="#00ff4a"/><stop offset="0.237" stop-color="#00ff32"/><stop offset="0.254" stop-color="#00ff24"/><stop offset="0.322" stop-color="#00ff0b"/><stop offset="0.390" stop-color="#02ff00"/><stop offset="0.559" stop-color="#00ff00"/><stop offset="0.610" stop-color="#00ff0b"/><stop offset="0.644" stop-color="#00ff24"/><stop offset="0.712" stop-color="#00ff6f"/><stop offset="0.780" stop-color="#00ffe6"/><stop offset="0.788" stop-color="#00ebff"/><stop offset="0.805" stop-color="#006dff"/><stop offset="0.822" stop-color="#0054ff"/><stop offset="0.890" stop-color="#003fff"/><stop offset="1.000" stop-color="#003aff"/></linearGradient><linearGradient id="h86" x1="0" y1="0" x2="0" y2="1"><stop offset="0.000" stop-color="#003aff"/><stop offset="0.144" stop-color="#0046ff"/><stop offset="0.178" stop-color="#005eff"/><stop offset="0.186" stop-color="#00a8ff"/><stop offset="0.195" stop-color="#00ffdf"/><stop offset="0.203" stop-color="#00ff88"/><stop offset="0.220" stop-color="#00ff4a"/><stop offset="0.237" stop-color="#00ff31"/><stop offset="0.254" stop-color="#00ff22"/><stop offset="0.322" stop-color="#00ff06"/><stop offset="0.390" stop-color="#09ff00"/><stop offset="0.610" stop-color="#00ff06"/><stop offset="0.644" stop-color="#00ff1f"/><stop offset="0.712" stop-color="#00ff6c"/><stop offset="0.780" stop-color="#00ffe5"/><stop offset="0.788" stop-color="#00ecff"/><stop offset="0.805" stop-color="#006dff"/><stop offset="0.822" stop-color="#0054ff"/><stop offset="0.890" stop-color="#003fff"/><stop offset="1.000" stop-color="#003aff"/></linearGradient><linearGradient id="h87" x1="0" y1="0" x2="0" y2="1"><stop offset="0.000" stop-color="#003aff"/><stop offset="0.144" stop-color="#0046ff"/><stop offset="0.178" stop-color="#005eff"/><stop offset="0.186" stop-color="#00a8ff"/><stop offset="0.195" stop-color="#00ffdf"/><stop offset="0.203" stop-color="#00ff88"/><stop offset="0.220" stop-color="#00ff4a"/><stop offset="0.237" stop-color="#00ff30"/><stop offset="0.254" stop-color="#00ff20"/><stop offset="0.322" stop-color="#00ff01"/><stop offset="0.390" stop-color="#0fff00"/><stop offset="0.559" stop-color="#0dff00"/><stop offset="0.610" stop-color="#00ff01"/><stop offset="0.644" stop-color="#00ff1a"/><stop offset="0.712" stop-color="#00ff68"/><stop offset="0.780" stop-color="#00ffe5"/><stop offset="0.788" stop-color="#00ecff"/><stop offset="0.805" stop-color="#006dff"/><stop offset="0.822" stop-color="#0054ff"/><stop offset="0.890" stop-color="#003fff"/><stop offset="1.000" stop-color="#003aff"/></linearGradient><linearGradient id="h88" x1="0" y1="0" x2="0" y2="1"><stop offset="0.000" stop-color="#003aff"/><stop offset="0.144" stop-color="#0046ff"/><stop offset="0.169" stop-color="#0054ff"/><stop offset="0.186" stop-color="#006aff"/><stop offset="0.195" stop-color="#00ffe7"/><stop offset="0.203" stop-color="#00ff88"/><stop offset="0.220" stop-color="#00ff49"/><stop offset="0.237" stop-color="#00ff2f"/><stop offset="0.288" stop-color="#00ff07"/><stop offset="0.356" stop-color="#0eff00"/><stop offset="0.475" stop-color="#16ff00"/><stop offset="0.559" stop-color="#13ff00"/><stop offset="0.610" stop-color="#04ff00"/><stop offset="0.678" stop-color="#00ff38"/><stop offset="0.746" stop-color="#00ff9e"/><stop offset="0.780" stop-color="#00ffe4"/><stop offset="0.788" stop-color="#00ecff"/><stop offset="0.805" stop-color="#0064ff"/><stop offset="0.847" stop-color="#0046ff"/><stop offset="1.000" stop-color="#003aff"/></linearGradient><linearGradient id="h89" x1="0" y1="0" x2="0" y2="1"><stop offset="0.000" stop-color="#003aff"/><stop offset="0.144" stop-color="#0046ff"/><stop offset="0.186" stop-color="#0065ff"/><stop offset="0.195" stop-color="#00efff"/><stop offset="0.203" stop-color="#00ffa2"/><stop offset="0.220" stop-color="#00ff64"/><stop offset="0.237" stop-color="#00ff4d"/><stop offset="0.288" stop-color="#00ff34"/><stop offset="0.356" stop-color="#00ff24"/><stop offset="0.475" stop-color="#00ff1e"/><stop offset="0.610" stop-color="#00ff2b"/><stop offset="0.678" stop-color="#00ff5f"/><stop offset="0.746" stop-color="#00ffbd"/><stop offset="0.780" stop-color="#00fff9"/><stop offset="0.788" stop-color="#00d8ff"/><stop offset="0.797" stop-color="#008cff"/><stop offset="0.805" stop-color="#0063ff"/><stop offset="0.822" stop-color="#0054ff"/><stop offset="0.890" stop-color="#003fff"/><stop offset="1.000" stop-color="#003aff"/></linearGradient><linearGradient id="h90" x1="0" y1="0" x2="0" y2="1"><stop offset="0.000" stop-color="#003aff"/><stop offset="0.144" stop-color="#0046ff"/><stop offset="0.186" stop-color="#0063ff"/><stop offset="0.195" stop-color="#0091ff"/><stop offset="0.203" stop-color="#00ffdb"/><stop offset="0.220" stop-color="#00ffa5"/><stop offset="0.237" stop-color="#00ff8f"/><stop offset="0.288" stop-color="#00ff74"/><stop offset="0.356" stop-color="#00ff64"/><stop offset="0.475" stop-color="#00ff60"/><stop offset="0.610" stop-color="#00ff6b"/><stop offset="0.678" stop-color="#00ffa0"/><stop offset="0.746" stop-color="#00fff0"/><stop offset="0.763" stop-color="#00f5ff"/><stop offset="0.771" stop-color="#00e5ff"/><stop offset="0.780" stop-color="#00d6ff"/><stop offset="0.788" stop-color="#00b0ff"/><stop offset="0.797" stop-color="#006cff"/><stop offset="0.805" stop-color="#0063ff"/><stop offset="0.847" stop-color="#0046ff"/><stop offset="0.958" stop-color="#003bff"/><stop offset="1.000" stop-color="#003aff"/></linearGradient><linearGradient id="h91" x1="0" y1="0" x2="0" y2="1"><stop offset="0.000" stop-color="#003aff"/><stop offset="0.144" stop-color="#0046ff"/><stop offset="0.186" stop-color="#0063ff"/><stop offset="0.195" stop-color="#0063ff"/><stop offset="0.203" stop-color="#0082ff"/><stop offset="0.212" stop-color="#00b7ff"/><stop offset="0.220" stop-color="#00ceff"/><stop offset="0.254" stop-color="#00e7ff"/><stop offset="0.322" stop-color="#00f7ff"/><stop offset="0.559" stop-color="#00ffff"/><stop offset="0.644" stop-color="#00e7ff"/><stop offset="0.771" stop-color="#0089ff"/><stop offset="0.788" stop-color="#0069ff"/><stop offset="0.847" stop-color="#0046ff"/><stop offset="1.000" stop-color="#003aff"/></linearGradient><linearGradient id="h92" x1="0" y1="0" x2="0" y2="1"><stop offset="0.000" stop-color="#003aff"/><stop offset="0.144" stop-color="#0046ff"/><stop offset="0.186" stop-color="#0063ff"/><stop offset="0.237" stop-color="#0072ff"/><stop offset="0.322" stop-color="#0078ff"/><stop offset="0.559" stop-color="#007aff"/><stop offset="0.712" stop-color="#006bff"/><stop offset="0.805" stop-color="#0063ff"/><stop offset="0.847" stop-color="#0046ff"/><stop offset="1.000" stop-color="#003aff"/></linearGradient><linearGradient id="h93" x1="0" y1="0" x2="0" y2="1"><stop offset="0.000" stop-color="#003aff"/><stop offset="0.144" stop-color="#0046ff"/><stop offset="0.186" stop-color="#005fff"/><stop offset="0.805" stop-color="#005fff"/><stop offset="0.847" stop-color="#0046ff"/><stop offset="1.000" stop-color="#003aff"/></linearGradient><linearGradient id="h94" x1="0" y1="0" x2="0" y2="1"><stop offset="0.000" stop-color="#003aff"/><stop offset="0.144" stop-color="#0045ff"/><stop offset="0.186" stop-color="#0057ff"/><stop offset="0.805" stop-color="#0057ff"/><stop offset="0.847" stop-color="#0045ff"/><stop offset="1.000" stop-color="#003aff"/></linearGradient><linearGradient id="h95" x1="0" y1="0" x2="0" y2="1"><stop offset="0.000" stop-color="#003aff"/><stop offset="0.144" stop-color="#0044ff"/><stop offset="0.186" stop-color="#0051ff"/><stop offset="0.771" stop-color="#0051ff"/><stop offset="0.847" stop-color="#0044ff"/><stop offset="1.000" stop-color="#003aff"/></linearGradient><linearGradient id="h96" x1="0" y1="0" x2="0" y2="1"><stop offset="0.000" stop-color="#003aff"/><stop offset="0.254" stop-color="#004cff"/><stop offset="0.644" stop-color="#004cff"/><stop offset="0.847" stop-color="#0044ff"/><stop offset="1.000" stop-color="#003aff"/></linearGradient><linearGradient id="h97" x1="0" y1="0" x2="0" y2="1"><stop offset="0.000" stop-color="#003aff"/><stop offset="0.254" stop-color="#0044ff"/><stop offset="0.644" stop-color="#0044ff"/><stop offset="1.000" stop-color="#003aff"/></linearGradient><linearGradient id="h98" x1="0" y1="0" x2="0" y2="1"><stop offset="0.000" stop-color="#003aff"/><stop offset="1.000" stop-color="#003aff"/></linearGradient><linearGradient id="h99" x1="0" y1="0" x2="0" y2="1"><stop offset="0.000" stop-color="#003aff"/><stop offset="1.000" stop-color="#003aff"/></linearGradient><linearGradient id="h100" x1="0" y1="0" x2="0" y2="1"><stop offset="0.000" stop-color="#003aff"/><stop offset="1.000" stop-color="#003aff"/></linearGradient><linearGradient id="cb" x1="0" y1="0" x2="0" y2="1"><stop offset="0.000" stop-color="#ff0000"/><stop offset="0.070" stop-color="#ff1e00"/><stop offset="0.150" stop-color="#ff8c00"/><stop offset="0.260" stop-color="#ffff00"/><stop offset="0.380" stop-color="#82ff00"/><stop offset="0.500" stop-color="#00ff00"/><stop offset="0.615" stop-color="#00ff64"/><stop offset="0.760" stop-color="#00ffff"/><stop offset="0.900" stop-color="#0046ff"/><stop offset="1.000" stop-color="#0000ff"/></linearGradient><filter id="bl" x="-5%" y="-5%" width="110%" height="110%"><feGaussianBlur stdDeviation="0.65"/></filter><filter id="hb" x="-5%" y="-5%" width="110%" height="110%"><feGaussianBlur stdDeviation="0.8 0.5"/></filter><clipPath id="hc"><rect x="34.0" y="1.6" width="204.0" height="150.7"/></clipPath></defs><rect width="100%" height="100%" fill="#fff"/><g filter="url(#bl)"><g clip-path="url(#hc)"><g filter="url(#hb)"><rect x="30.0" y="-2.4" width="212.0" height="158.7" fill="#0039ff"/><rect x="48.0" y="20.0" width="4.5" height="118.0" fill="url(#h0)"/><rect x="52.0" y="20.0" width="4.5" height="118.0" fill="url(#h1)"/><rect x="56.0" y="20.0" width="4.5" height="118.0" fill="url(#h2)"/><rect x="60.0" y="20.0" width="4.5" height="118.0" fill="url(#h3)"/><rect x="64.0" y="20.0" width="1.5" height="118.0" fill="url(#h4)"/><rect x="65.0" y="20.0" width="1.5" height="118.0" fill="url(#h5)"/><rect x="66.0" y="20.0" width="1.5" height="118.0" fill="url(#h6)"/><rect x="67.0" y="20.0" width="1.5" height="118.0" fill="url(#h7)"/><rect x="68.0" y="20.0" width="1.5" height="118.0" fill="url(#h8)"/><rect x="69.0" y="20.0" width="1.5" height="118.0" fill="url(#h9)"/><rect x="70.0" y="20.0" width="1.5" height="118.0" fill="url(#h10)"/><rect x="71.0" y="20.0" width="1.5" height="118.0" fill="url(#h11)"/><rect x="72.0" y="20.0" width="1.5" height="118.0" fill="url(#h12)"/><rect x="73.0" y="20.0" width="1.5" height="118.0" fill="url(#h13)"/><rect x="74.0" y="20.0" width="1.5" height="118.0" fill="url(#h14)"/><rect x="75.0" y="20.0" width="1.5" height="118.0" fill="url(#h15)"/><rect x="76.0" y="20.0" width="1.5" height="118.0" fill="url(#h16)"/><rect x="77.0" y="20.0" width="1.5" height="118.0" fill="url(#h17)"/><rect x="78.0" y="20.0" width="1.5" height="118.0" fill="url(#h18)"/><rect x="79.0" y="20.0" width="1.5" height="118.0" fill="url(#h19)"/><rect x="80.0" y="20.0" width="1.5" height="118.0" fill="url(#h20)"/><rect x="81.0" y="20.0" width="1.5" height="118.0" fill="url(#h21)"/><rect x="82.0" y="20.0" width="1.5" height="118.0" fill="url(#h22)"/><rect x="83.0" y="20.0" width="1.5" height="118.0" fill="url(#h23)"/><rect x="84.0" y="20.0" width="1.5" height="118.0" fill="url(#h24)"/><rect x="85.0" y="20.0" width="1.5" height="118.0" fill="url(#h25)"/><rect x="86.0" y="20.0" width="1.5" height="118.0" fill="url(#h26)"/><rect x="87.0" y="20.0" width="1.5" height="118.0" fill="url(#h27)"/><rect x="88.0" y="20.0" width="1.5" height="118.0" fill="url(#h28)"/><rect x="89.0" y="20.0" width="1.5" height="118.0" fill="url(#h29)"/><rect x="90.0" y="20.0" width="1.5" height="118.0" fill="url(#h30)"/><rect x="91.0" y="20.0" width="1.5" height="118.0" fill="url(#h31)"/><rect x="92.0" y="20.0" width="1.5" height="118.0" fill="url(#h32)"/><rect x="93.0" y="20.0" width="1.5" height="118.0" fill="url(#h33)"/><rect x="94.0" y="20.0" width="1.5" height="118.0" fill="url(#h34)"/><rect x="95.0" y="20.0" width="1.5" height="118.0" fill="url(#h35)"/><rect x="96.0" y="20.0" width="1.5" height="118.0" fill="url(#h36)"/><rect x="97.0" y="20.0" width="1.5" height="118.0" fill="url(#h37)"/><rect x="98.0" y="20.0" width="1.5" height="118.0" fill="url(#h38)"/><rect x="99.0" y="20.0" width="1.5" height="118.0" fill="url(#h39)"/><rect x="100.0" y="20.0" width="2.5" height="118.0" fill="url(#h40)"/><rect x="102.0" y="20.0" width="2.5" height="118.0" fill="url(#h41)"/><rect x="104.0" y="20.0" width="2.5" height="118.0" fill="url(#h42)"/><rect x="106.0" y="20.0" width="2.5" height="118.0" fill="url(#h43)"/><rect x="108.0" y="20.0" width="2.5" height="118.0" fill="url(#h44)"/><rect x="110.0" y="20.0" width="2.5" height="118.0" fill="url(#h45)"/><rect x="112.0" y="20.0" width="2.5" height="118.0" fill="url(#h46)"/><rect x="114.0" y="20.0" width="2.5" height="118.0" fill="url(#h47)"/><rect x="116.0" y="20.0" width="2.5" height="118.0" fill="url(#h48)"/><rect x="118.0" y="20.0" width="2.5" height="118.0" fill="url(#h49)"/><rect x="120.0" y="20.0" width="2.5" height="118.0" fill="url(#h50)"/><rect x="122.0" y="20.0" width="2.5" height="118.0" fill="url(#h51)"/><rect x="124.0" y="20.0" width="2.5" height="118.0" fill="url(#h52)"/><rect x="126.0" y="20.0" width="2.5" height="118.0" fill="url(#h53)"/><rect x="128.0" y="20.0" width="2.5" height="118.0" fill="url(#h54)"/><rect x="130.0" y="20.0" width="2.5" height="118.0" fill="url(#h55)"/><rect x="132.0" y="20.0" width="2.5" height="118.0" fill="url(#h56)"/><rect x="134.0" y="20.0" width="2.5" height="118.0" fill="url(#h57)"/><rect x="136.0" y="20.0" width="2.5" height="118.0" fill="url(#h58)"/><rect x="138.0" y="20.0" width="2.5" height="118.0" fill="url(#h59)"/><rect x="140.0" y="20.0" width="2.5" height="118.0" fill="url(#h60)"/><rect x="142.0" y="20.0" width="2.5" height="118.0" fill="url(#h61)"/><rect x="144.0" y="20.0" width="2.5" height="118.0" fill="url(#h62)"/><rect x="146.0" y="20.0" width="2.5" height="118.0" fill="url(#h63)"/><rect x="148.0" y="20.0" width="2.5" height="118.0" fill="url(#h64)"/><rect x="150.0" y="20.0" width="2.5" height="118.0" fill="url(#h65)"/><rect x="152.0" y="20.0" width="2.5" height="118.0" fill="url(#h66)"/><rect x="154.0" y="20.0" width="2.5" height="118.0" fill="url(#h67)"/><rect x="156.0" y="20.0" width="2.5" height="118.0" fill="url(#h68)"/><rect x="158.0" y="20.0" width="2.5" height="118.0" fill="url(#h69)"/><rect x="160.0" y="20.0" width="2.5" height="118.0" fill="url(#h70)"/><rect x="162.0" y="20.0" width="2.5" height="118.0" fill="url(#h71)"/><rect x="164.0" y="20.0" width="2.5" height="118.0" fill="url(#h72)"/><rect x="166.0" y="20.0" width="2.5" height="118.0" fill="url(#h73)"/><rect x="168.0" y="20.0" width="2.5" height="118.0" fill="url(#h74)"/><rect x="170.0" y="20.0" width="2.5" height="118.0" fill="url(#h75)"/><rect x="172.0" y="20.0" width="2.5" height="118.0" fill="url(#h76)"/><rect x="174.0" y="20.0" width="2.5" height="118.0" fill="url(#h77)"/><rect x="176.0" y="20.0" width="2.5" height="118.0" fill="url(#h78)"/><rect x="178.0" y="20.0" width="2.5" height="118.0" fill="url(#h79)"/><rect x="180.0" y="20.0" width="2.5" height="118.0" fill="url(#h80)"/><rect x="182.0" y="20.0" width="2.5" height="118.0" fill="url(#h81)"/><rect x="184.0" y="20.0" width="2.5" height="118.0" fill="url(#h82)"/><rect x="186.0" y="20.0" width="1.5" height="118.0" fill="url(#h83)"/><rect x="187.0" y="20.0" width="1.5" height="118.0" fill="url(#h84)"/><rect x="188.0" y="20.0" width="1.5" height="118.0" fill="url(#h85)"/><rect x="189.0" y="20.0" width="1.5" height="118.0" fill="url(#h86)"/><rect x="190.0" y="20.0" width="1.5" height="118.0" fill="url(#h87)"/><rect x="191.0" y="20.0" width="1.5" height="118.0" fill="url(#h88)"/><rect x="192.0" y="20.0" width="1.5" height="118.0" fill="url(#h89)"/><rect x="193.0" y="20.0" width="1.5" height="118.0" fill="url(#h90)"/><rect x="194.0" y="20.0" width="1.5" height="118.0" fill="url(#h91)"/><rect x="195.0" y="20.0" width="1.5" height="118.0" fill="url(#h92)"/><rect x="196.0" y="20.0" width="1.5" height="118.0" fill="url(#h93)"/><rect x="197.0" y="20.0" width="1.5" height="118.0" fill="url(#h94)"/><rect x="198.0" y="20.0" width="1.5" height="118.0" fill="url(#h95)"/><rect x="199.0" y="20.0" width="1.5" height="118.0" fill="url(#h96)"/><rect x="200.0" y="20.0" width="4.5" height="118.0" fill="url(#h97)"/><rect x="204.0" y="20.0" width="4.5" height="118.0" fill="url(#h98)"/><rect x="208.0" y="20.0" width="4.5" height="118.0" fill="url(#h99)"/><rect x="212.0" y="20.0" width="4.5" height="118.0" fill="url(#h100)"/></g></g><g stroke="#000" stroke-width="1.5" fill="none"><path d="M34.0 1.6V152.3H238.5"/></g><g stroke="#000" stroke-width="1.2" fill="none"><path d="M34.0 1.6H238.0V152.3"/><line x1="34.00" y1="152.30" x2="34.00" y2="156.80"/><line x1="54.40" y1="152.30" x2="54.40" y2="154.55"/><line x1="74.80" y1="152.30" x2="74.80" y2="156.80"/><line x1="95.20" y1="152.30" x2="95.20" y2="154.55"/><line x1="115.60" y1="152.30" x2="115.60" y2="156.80"/><line x1="136.00" y1="152.30" x2="136.00" y2="154.55"/><line x1="156.40" y1="152.30" x2="156.40" y2="156.80"/><line x1="176.80" y1="152.30" x2="176.80" y2="154.55"/><line x1="197.20" y1="152.30" x2="197.20" y2="156.80"/><line x1="217.60" y1="152.30" x2="217.60" y2="154.55"/><line x1="238.00" y1="152.30" x2="238.00" y2="156.80"/><line x1="30.00" y1="152.30" x2="34.00" y2="152.30"/><line x1="32.00" y1="139.59" x2="34.00" y2="139.59"/><line x1="30.00" y1="126.88" x2="34.00" y2="126.88"/><line x1="32.00" y1="114.17" x2="34.00" y2="114.17"/><line x1="30.00" y1="101.46" x2="34.00" y2="101.46"/><line x1="32.00" y1="88.75" x2="34.00" y2="88.75"/><line x1="30.00" y1="76.04" x2="34.00" y2="76.04"/><line x1="32.00" y1="63.33" x2="34.00" y2="63.33"/><line x1="30.00" y1="50.62" x2="34.00" y2="50.62"/><line x1="32.00" y1="37.91" x2="34.00" y2="37.91"/><line x1="30.00" y1="25.20" x2="34.00" y2="25.20"/><line x1="32.00" y1="12.49" x2="34.00" y2="12.49"/></g><rect x="245.4" y="5.4" width="12.7" height="146.0" fill="url(#cb)"/><g font-family="Liberation Sans, sans-serif" font-size="10.0" fill="#111"><text transform="translate(34.0 168.9) scale(1 1.100)" text-anchor="middle">0</text><text transform="translate(74.8 168.9) scale(1 1.100)" text-anchor="middle">20</text><text transform="translate(115.6 168.9) scale(1 1.100)" text-anchor="middle">40</text><text transform="translate(156.4 168.9) scale(1 1.100)" text-anchor="middle">60</text><text transform="translate(197.2 168.9) scale(1 1.100)" text-anchor="middle">80</text><text transform="translate(238.0 168.9) scale(1 1.100)" text-anchor="middle">100</text><text transform="translate(26.7 155.9) scale(1 1.100)" text-anchor="end">0</text><text transform="translate(26.7 130.5) scale(1 1.100)" text-anchor="end">2</text><text transform="translate(26.7 105.1) scale(1 1.100)" text-anchor="end">4</text><text transform="translate(26.7 79.7) scale(1 1.100)" text-anchor="end">6</text><text transform="translate(26.7 54.3) scale(1 1.100)" text-anchor="end">8</text><text transform="translate(26.7 28.8) scale(1 1.100)" text-anchor="end">10</text><text transform="translate(140.5 180.0) scale(1 0.980)" text-anchor="middle">lateral position (µm)</text><text transform="translate(9.3 77.0) rotate(-90) scale(1.090 1)" text-anchor="middle">time (ns)</text><text transform="translate(42.0 16.9) scale(1 0.980)" fill="#e4e9ff">a) time resolved near field</text><text transform="translate(261.3 154.9) scale(1 0.980)">0</text><text transform="translate(261.3 125.7) scale(1 0.980)">0.2</text><text transform="translate(261.3 96.5) scale(1 0.980)">0.4</text><text transform="translate(261.3 67.3) scale(1 0.980)">0.6</text><text transform="translate(261.3 38.1) scale(1 0.980)">0.8</text><text transform="translate(261.3 8.1) scale(1 0.980)" font-weight="bold" font-size="9.0">1</text></g><g stroke="#444" stroke-width="1.3" fill="none"><path d="M319.5 2.0V152.5H523.5"/><line x1="319.50" y1="152.30" x2="319.50" y2="156.80"/><line x1="333.07" y1="152.30" x2="333.07" y2="154.55"/><line x1="346.63" y1="152.30" x2="346.63" y2="154.55"/><line x1="360.20" y1="152.30" x2="360.20" y2="154.55"/><line x1="373.77" y1="152.30" x2="373.77" y2="154.55"/><line x1="387.33" y1="152.30" x2="387.33" y2="156.80"/><line x1="400.90" y1="152.30" x2="400.90" y2="154.55"/><line x1="414.47" y1="152.30" x2="414.47" y2="154.55"/><line x1="428.03" y1="152.30" x2="428.03" y2="154.55"/><line x1="441.60" y1="152.30" x2="441.60" y2="154.55"/><line x1="455.17" y1="152.30" x2="455.17" y2="156.80"/><line x1="468.73" y1="152.30" x2="468.73" y2="154.55"/><line x1="482.30" y1="152.30" x2="482.30" y2="154.55"/><line x1="495.87" y1="152.30" x2="495.87" y2="154.55"/><line x1="509.43" y1="152.30" x2="509.43" y2="154.55"/><line x1="523.00" y1="152.30" x2="523.00" y2="156.80"/><line x1="315.50" y1="152.30" x2="319.50" y2="152.30"/><line x1="317.50" y1="139.59" x2="319.50" y2="139.59"/><line x1="315.50" y1="126.88" x2="319.50" y2="126.88"/><line x1="317.50" y1="114.17" x2="319.50" y2="114.17"/><line x1="315.50" y1="101.46" x2="319.50" y2="101.46"/><line x1="317.50" y1="88.75" x2="319.50" y2="88.75"/><line x1="315.50" y1="76.04" x2="319.50" y2="76.04"/><line x1="317.50" y1="63.33" x2="319.50" y2="63.33"/><line x1="315.50" y1="50.62" x2="319.50" y2="50.62"/><line x1="317.50" y1="37.91" x2="319.50" y2="37.91"/><line x1="315.50" y1="25.20" x2="319.50" y2="25.20"/><line x1="317.50" y1="12.49" x2="319.50" y2="12.49"/></g><path d="M319.3 2.0C319.4 3.3 319.7 6.6 320.0 10.0C320.3 13.4 320.8 19.3 321.2 22.5C321.6 25.7 321.9 27.0 322.2 29.0C322.5 31.0 322.8 33.1 323.2 34.4C323.6 35.6 323.9 36.0 324.3 36.5C324.8 37.0 324.9 37.3 325.9 37.7C326.8 38.1 328.2 38.4 330.0 38.7C331.8 39.0 333.2 39.2 336.5 39.7C339.8 40.2 345.3 41.2 349.7 41.7C354.1 42.2 357.8 42.2 362.9 42.6C367.9 43.0 371.6 43.5 380.0 44.1C388.4 44.8 401.4 45.6 413.1 46.5C424.8 47.4 441.4 48.6 450.0 49.5C458.6 50.4 459.9 50.9 464.9 51.7C469.9 52.6 475.7 53.6 479.9 54.6C484.1 55.6 487.6 56.4 490.3 57.6C493.0 58.9 494.7 60.5 496.3 62.1C497.9 63.7 499.0 66.0 500.0 67.3C501.0 68.6 501.6 69.1 502.5 70.0C503.4 70.9 504.7 71.8 505.3 72.6C505.9 73.4 505.9 74.1 506.0 75.0C506.1 75.9 506.1 77.0 506.0 77.8C505.9 78.6 505.8 79.2 505.4 80.0C505.0 80.8 504.3 81.4 503.7 82.3C503.1 83.2 502.5 84.5 501.5 85.5C500.5 86.5 499.2 87.4 497.6 88.4C496.0 89.4 494.0 90.5 492.0 91.5C490.0 92.5 488.5 93.3 485.4 94.5C482.3 95.7 479.3 97.1 473.2 98.7C467.1 100.3 456.9 102.8 448.8 104.3C440.7 105.8 429.5 107.1 424.4 107.9C419.3 108.7 420.1 108.5 418.3 109.1C416.5 109.7 414.8 111.1 413.4 111.6C412.0 112.1 412.2 111.8 410.0 112.0C407.8 112.2 404.1 112.5 400.0 112.8C395.9 113.1 391.2 113.6 385.6 113.9C380.1 114.2 373.0 114.5 366.7 114.8C360.4 115.0 352.2 115.2 347.8 115.4C343.4 115.6 342.2 115.9 340.0 116.2C337.8 116.5 336.3 116.9 334.6 117.3C332.9 117.7 331.3 118.1 330.0 118.5C328.7 118.9 327.9 119.2 327.0 119.6C326.1 120.0 325.4 120.5 324.8 121.0C324.2 121.5 323.6 121.8 323.2 122.4C322.8 123.0 322.6 123.7 322.3 124.5C322.1 125.3 322.0 124.8 321.7 127.1C321.4 129.4 320.8 134.4 320.4 138.5C320.0 142.6 319.6 149.5 319.5 151.7" stroke="#1a1ab4" stroke-width="2" fill="none" stroke-linejoin="round" stroke-linecap="round"/><g font-family="Liberation Sans, sans-serif" font-size="10.0" fill="#111"><text transform="translate(319.5 168.9) scale(1 1.100)" text-anchor="middle">0</text><text transform="translate(387.3 168.9) scale(1 1.100)" text-anchor="middle">5</text><text transform="translate(455.2 168.9) scale(1 1.100)" text-anchor="middle">10</text><text transform="translate(523.0 168.9) scale(1 1.100)" text-anchor="middle">15</text><text transform="translate(312.0 155.9) scale(1 1.100)" text-anchor="end">0</text><text transform="translate(312.0 130.5) scale(1 1.100)" text-anchor="end">2</text><text transform="translate(312.0 105.1) scale(1 1.100)" text-anchor="end">4</text><text transform="translate(312.0 79.7) scale(1 1.100)" text-anchor="end">6</text><text transform="translate(312.0 54.3) scale(1 1.100)" text-anchor="end">8</text><text transform="translate(312.0 28.8) scale(1 1.100)" text-anchor="end">10</text><text transform="translate(410.0 187.3) scale(1 0.980)" text-anchor="middle">optical power (a.u.)</text><text transform="translate(296.0 76.0) rotate(-90) scale(1.090 1)" text-anchor="middle">time (ns)</text><text transform="translate(351.3 14.4) scale(1 0.980)">b) position integrated near field</text><text transform="translate(355.9 76.5) scale(1 0.980)" font-size="8.6">τ</text><text transform="translate(359.6 79.6) scale(1 0.980)" font-size="7.1">50%</text><text transform="translate(378.6 76.3) scale(1 0.980)">=</text><text transform="translate(387.3 76.4) scale(1 0.980)" font-weight="bold" font-size="9.5">5.1</text><text transform="translate(406.8 76.4) scale(1 0.980)" font-size="10.6">ns</text></g><g stroke="#000" stroke-width="1.8" fill="none"><path d="M34.0 197.2V349.5H238.5"/></g><g stroke="#000" stroke-width="1.2" fill="none"><line x1="34.00" y1="349.50" x2="34.00" y2="354.00"/><line x1="54.40" y1="349.50" x2="54.40" y2="351.75"/><line x1="74.80" y1="349.50" x2="74.80" y2="354.00"/><line x1="95.20" y1="349.50" x2="95.20" y2="351.75"/><line x1="115.60" y1="349.50" x2="115.60" y2="354.00"/><line x1="136.00" y1="349.50" x2="136.00" y2="351.75"/><line x1="156.40" y1="349.50" x2="156.40" y2="354.00"/><line x1="176.80" y1="349.50" x2="176.80" y2="351.75"/><line x1="197.20" y1="349.50" x2="197.20" y2="354.00"/><line x1="217.60" y1="349.50" x2="217.60" y2="351.75"/><line x1="238.00" y1="349.50" x2="238.00" y2="354.00"/><line x1="30.00" y1="349.50" x2="34.00" y2="349.50"/><line x1="32.00" y1="311.55" x2="34.00" y2="311.55"/><line x1="30.00" y1="273.60" x2="34.00" y2="273.60"/><line x1="32.00" y1="235.65" x2="34.00" y2="235.65"/><line x1="30.00" y1="197.70" x2="34.00" y2="197.70"/></g><path d="M34.5 346.3C35.4 346.2 37.9 346.0 40.0 345.8C42.1 345.6 45.0 345.0 47.0 345.0C49.0 345.0 50.7 345.6 52.0 345.8C53.3 346.0 53.5 346.4 55.0 346.3C56.5 346.2 59.8 345.6 61.3 345.0C62.8 344.4 63.2 343.9 64.0 343.0C64.8 342.1 65.3 341.2 65.8 339.9C66.3 338.6 66.8 336.9 67.2 335.0C67.6 333.1 68.1 330.9 68.4 328.4C68.8 325.9 69.0 323.0 69.3 320.0C69.6 317.0 69.9 314.2 70.2 310.5C70.5 306.8 70.9 302.2 71.2 298.0C71.5 293.8 71.9 291.0 72.2 285.0C72.5 279.0 72.9 270.3 73.2 262.0C73.5 253.7 73.9 242.7 74.2 235.0C74.5 227.3 74.7 220.4 75.0 216.0C75.3 211.6 75.6 209.3 75.9 208.6C76.2 207.9 76.5 209.3 76.8 212.0C77.1 214.7 77.5 220.3 78.0 225.0C78.5 229.7 79.2 234.8 80.0 240.0C80.8 245.2 82.2 252.2 83.0 256.0C83.8 259.8 84.4 261.4 85.0 263.0C85.6 264.6 86.1 265.5 86.7 265.3C87.3 265.1 87.8 263.9 88.5 262.0C89.2 260.1 90.2 256.7 91.0 254.0C91.8 251.3 92.8 247.8 93.5 246.0C94.2 244.2 94.7 243.2 95.3 243.2C95.9 243.2 96.3 243.9 97.0 246.0C97.7 248.1 98.7 253.5 99.5 256.0C100.3 258.5 101.2 260.6 101.9 261.1C102.7 261.6 103.3 259.8 104.0 259.0C104.7 258.2 105.3 257.1 106.0 256.5C106.7 255.9 107.5 255.3 108.2 255.6C108.9 255.8 109.4 256.4 110.0 258.0C110.6 259.6 111.4 263.1 112.0 265.0C112.6 266.9 113.0 269.1 113.7 269.4C114.4 269.7 115.2 267.7 116.0 267.0C116.8 266.3 117.6 265.1 118.4 265.3C119.2 265.5 120.1 266.6 121.0 268.0C121.9 269.4 123.2 271.9 124.0 273.5C124.8 275.1 125.3 276.3 126.1 277.7C126.9 279.1 127.8 280.7 129.0 282.0C130.2 283.3 131.7 285.1 133.0 285.4C134.3 285.7 135.8 284.6 137.0 284.0C138.2 283.4 139.5 281.8 140.5 281.8C141.5 281.8 142.3 283.2 143.0 283.8C143.7 284.4 144.0 285.2 144.9 285.1C145.8 285.0 147.0 283.5 148.2 283.2C149.4 282.9 150.6 283.8 152.0 283.5C153.4 283.2 155.1 281.2 156.4 281.2C157.7 281.2 158.8 282.6 160.0 283.5C161.2 284.4 162.4 286.9 163.3 286.8C164.2 286.7 164.7 285.5 165.5 283.0C166.3 280.5 167.2 274.7 168.0 272.0C168.8 269.3 169.8 267.2 170.6 267.0C171.4 266.8 172.0 268.9 173.0 271.0C174.0 273.1 175.6 279.1 176.5 279.8C177.4 280.5 177.8 277.8 178.5 275.0C179.2 272.2 179.9 265.7 180.5 263.0C181.1 260.3 181.7 258.9 182.3 258.9C182.9 258.9 183.4 260.1 184.0 263.0C184.6 265.9 185.4 272.2 186.0 276.0C186.6 279.8 187.2 285.0 187.8 285.8C188.4 286.6 188.9 282.2 189.5 281.0C190.1 279.8 190.8 278.4 191.3 278.4C191.8 278.4 192.2 279.4 192.5 281.0C192.8 282.6 193.0 284.8 193.3 288.0C193.6 291.2 193.9 294.9 194.2 300.0C194.5 305.1 194.9 313.7 195.3 318.7C195.7 323.7 196.1 326.9 196.5 330.0C196.9 333.1 197.4 335.6 197.8 337.6C198.2 339.6 198.5 340.7 199.0 342.0C199.5 343.3 200.1 344.8 200.9 345.5C201.7 346.2 202.9 346.2 204.0 346.5C205.1 346.8 204.0 346.9 207.2 347.1C210.4 347.4 217.8 347.7 223.0 348.0C228.2 348.3 235.6 348.6 238.1 348.7" stroke="#ff1010" stroke-width="2" fill="none" stroke-linejoin="round" stroke-linecap="round"/><g font-family="Liberation Sans, sans-serif" font-size="10.0" fill="#111"><text transform="translate(34.0 365.9) scale(1 1.100)" text-anchor="middle">0</text><text transform="translate(74.8 365.9) scale(1 1.100)" text-anchor="middle">20</text><text transform="translate(115.6 365.9) scale(1 1.100)" text-anchor="middle">40</text><text transform="translate(156.4 365.9) scale(1 1.100)" text-anchor="middle">60</text><text transform="translate(197.2 365.9) scale(1 1.100)" text-anchor="middle">80</text><text transform="translate(238.0 365.9) scale(1 1.100)" text-anchor="middle">100</text><text transform="translate(26.2 353.3) scale(1 1.100)" text-anchor="end">0</text><text transform="translate(26.2 277.4) scale(1 1.100)" text-anchor="end">2</text><text transform="translate(26.2 201.5) scale(1 1.100)" text-anchor="end" font-weight="bold" font-size="9.2">4</text><text transform="translate(137.5 377.5) scale(1 0.980)" text-anchor="middle">lateral position (µm)</text><text transform="translate(12.6 259.6) rotate(-90) scale(1.090 1)" text-anchor="middle">intensity (a.u.)</text><text transform="translate(44.0 203.5) scale(1 0.980)">c) time integrated near field</text></g></g></svg></body></html>
